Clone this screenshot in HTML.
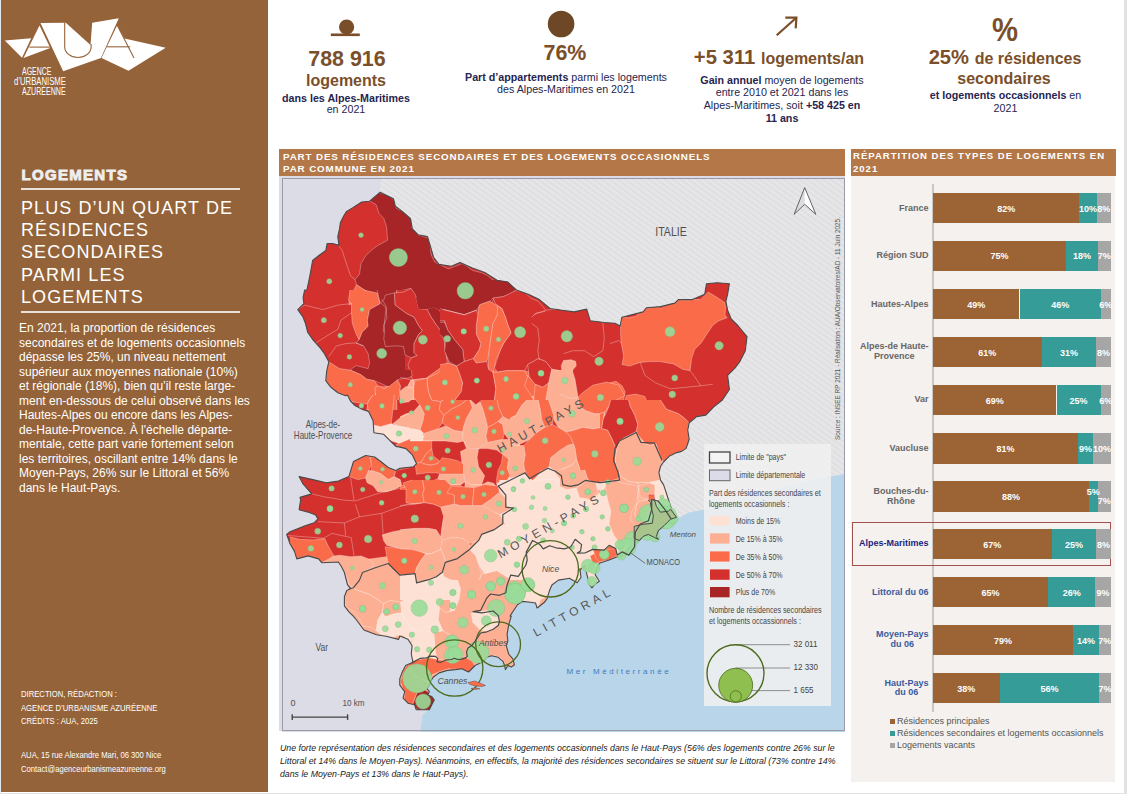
<!DOCTYPE html>
<html><head><meta charset="utf-8">
<style>
*{margin:0;padding:0;box-sizing:border-box}
html,body{width:1127px;height:794px;overflow:hidden;background:#fff;font-family:"Liberation Sans",sans-serif}
.a{position:absolute;white-space:nowrap}
#side{position:absolute;left:1px;top:0;width:267px;height:792px;background:#956339}
.w{color:#fff}
.br{color:#7b4f29;font-weight:bold}
.nv{color:#25254f}
.c{text-align:center}
.cl{width:40px;text-align:center;color:#fff;font-weight:bold;font-size:9px;line-height:12px}
.lb{right:198.5px;text-align:center;font-weight:bold;font-size:9px;line-height:9.7px}
</style></head><body>
<div id="side"></div>
<div class="a" style="left:0;top:0;width:1px;height:794px;background:#e4e9ee"></div>
<div class="a" style="left:0;top:793px;width:1127px;height:1px;background:#e3e3e3"></div>
<div class="a" style="left:1124px;top:0;width:3px;height:794px;background:#e2e2e2"></div>

<!-- logo -->
<svg class="a" style="left:0;top:0" width="180" height="110" viewBox="0 0 180 110">
<g fill="#fff">
<polygon points="4.8,40.4 31.2,38.2 22,57.7"/>
<polygon points="39.5,25.4 50.3,48.1 23.5,58"/>
<polygon points="40.5,23 65.8,22.8 90.5,45 92.2,22.8 118.8,18.2 100.9,58 63.2,71.2"/>
<polygon points="101.5,58 117.2,25.3 124.5,38.6 165.7,47.8 128.5,70.7"/>
</g>
<g stroke="#956339" stroke-width="1.1" fill="none">
<line x1="29.4" y1="47.1" x2="50.5" y2="47.1"/>
<line x1="107" y1="46.8" x2="130" y2="46.8"/>
<line x1="117.2" y1="25.3" x2="134" y2="58"/>
<path d="M64.7,22.5 V47 A13.2,10.5 0 0 0 91.1,47 V44"/>
</g>
</svg>
<div class="a w" style="left:21.9px;top:65.6px;font-size:11.8px;line-height:10.4px">
<div style="transform:scaleX(0.59);transform-origin:left">AGENCE</div>
<div style="transform:scaleX(0.655);transform-origin:left;margin-left:-8px">d’URBANISME</div>
<div style="transform:scaleX(0.6);transform-origin:left">AZURÉENNE</div>
</div>

<div class="a w" style="left:21.5px;top:165.5px;font-size:15px;font-weight:bold;-webkit-text-stroke:0.9px #eeeeee;color:#eeeeee;letter-spacing:1.3px">LOGEMENTS</div>
<div class="a" style="left:21px;top:188px;width:219px;height:2px;background:#e9e2da"></div>
<div class="a w" style="left:21px;top:196.6px;font-size:18px;line-height:22.35px;letter-spacing:1.1px">PLUS D’UN QUART DE<br>RÉSIDENCES<br>SECONDAIRES<br>PARMI LES<br>LOGEMENTS</div>
<div class="a" style="left:21px;top:311px;width:219px;height:2px;background:#e9e2da"></div>
<div class="a w" style="left:19px;top:321px;font-size:12px;line-height:14.5px">En 2021, la proportion de résidences<br>secondaires et de logements occasionnels<br>dépasse les 25%, un niveau nettement<br>supérieur aux moyennes nationale (10%)<br>et régionale (18%), bien qu’il reste large-<br>ment en-dessous de celui observé dans les<br>Hautes-Alpes ou encore dans les Alpes-<br>de-Haute-Provence. À l'échelle départe-<br>mentale, cette part varie fortement selon<br>les territoires, oscillant entre 14% dans le<br>Moyen-Pays, 26% sur le Littoral et 56%<br>dans le Haut-Pays.</div>

<div class="a w" style="left:21.4px;top:687.1px;font-size:9.6px;line-height:13.5px;transform:scaleX(0.8);transform-origin:left">DIRECTION, RÉDACTION :<br>AGENCE D’URBANISME AZURÉENNE<br>CRÉDITS : AUA, 2025</div>
<div class="a w" style="left:21.4px;top:748.2px;font-size:9.6px;line-height:13.5px;transform:scaleX(0.8);transform-origin:left">AUA, 15 rue Alexandre Mari, 06 300 Nice<br>Contact@agenceurbanismeazureenne.org</div>

<!-- top stats -->
<svg class="a" style="left:325px;top:15px" width="40" height="25" viewBox="325 15 40 25">
<circle cx="346.6" cy="27" r="7.6" fill="#7a4e29"/>
<rect x="330.8" y="33.5" width="29" height="2.6" fill="#7a4e29"/>
</svg>
<div class="a br c" style="left:297px;top:46.5px;width:100px;font-size:21.4px;line-height:24px">788 916</div>
<div class="a br c" style="left:296px;top:72px;width:100px;font-size:16px;line-height:18px">logements</div>
<div class="a nv c" style="left:266px;top:92.5px;width:160px;font-size:10.7px;line-height:11.2px"><b>dans les Alpes-Maritimes</b><br>en 2021</div>

<svg class="a" style="left:545px;top:8px" width="35" height="35" viewBox="545 8 35 35">
<circle cx="561.1" cy="24" r="13.3" fill="#6e4826"/>
</svg>
<div class="a br c" style="left:515px;top:40.5px;width:100px;font-size:21.4px;line-height:24px">76%</div>
<div class="a nv c" style="left:456px;top:72px;width:220px;font-size:10.7px;line-height:11.5px"><b>Part d’appartements</b> parmi les logements<br>des Alpes-Maritimes en 2021</div>

<svg class="a" style="left:770px;top:10px" width="35" height="32" viewBox="770 10 35 32">
<g stroke="#7a4e29" stroke-width="2.2" fill="none" stroke-linecap="butt">
<line x1="776.7" y1="35.3" x2="796" y2="18"/>
<polyline points="785.3,17.6 796.4,17.6 795.7,28.4"/>
</g>
</svg>
<div class="a c" style="left:679px;top:45.5px;width:200px;font-size:20.3px;line-height:23px"><span class="br">+5 311</span> <span class="br" style="font-size:16px">logements/an</span></div>
<div class="a nv c" style="left:679.5px;top:73.5px;width:205px;font-size:10.7px;line-height:12.7px"><b>Gain annuel</b> moyen de logements<br>entre 2010 et 2021 dans les<br>Alpes-Maritimes, soit <b>+58 425 en<br>11 ans</b></div>

<div class="a br c" style="left:954.5px;top:10px;width:100px;font-size:34px;line-height:38px;transform:scaleX(0.86)">%</div>
<div class="a c" style="left:905px;top:46px;width:200px;font-size:20.2px;line-height:22px"><span class="br">25%</span> <span class="br" style="font-size:16px">de résidences</span></div>
<div class="a br c" style="left:904px;top:68.5px;width:200px;font-size:16px;line-height:20px">secondaires</div>
<div class="a nv c" style="left:905.5px;top:88.5px;width:200px;font-size:10.7px;line-height:13.5px"><b>et logements occasionnels</b> en<br>2021</div>

<!-- map panel -->
<div class="a" style="left:279px;top:149px;width:566px;height:27px;background:#b47747"></div>
<div class="a w" style="left:283px;top:151px;font-size:9.8px;font-weight:bold;line-height:11.6px;letter-spacing:0.87px">PART DES RÉSIDENCES SECONDAIRES ET DES LOGEMENTS OCCASIONNELS<br>PAR COMMUNE EN 2021</div>
<div class="a" style="left:279px;top:176px;width:566px;height:555px;background:#dcdce7"></div>
<!--MAP-->
<svg class="a" style="left:282px;top:178px" width="563" height="554" viewBox="282 178 563 554">
<defs><pattern id="h" width="4.65" height="4.65" patternUnits="userSpaceOnUse" patternTransform="rotate(36)"><rect width="4.65" height="4.65" fill="#e6e6e6"/><rect width="4.65" height="1.5" fill="#dddde4"/></pattern></defs>
<rect x="282" y="178" width="563" height="554" fill="#dcdce7"/>
<polygon points="381.2,177.0 380.2,186.5 379.3,191.2 380.2,192.2 387.8,196.0 393.5,198.8 395.4,206.3 402.9,212.0 410.5,218.6 412.4,229.0 418.0,234.7 427.5,236.6 430.3,246.0 433.6,257.3 438.9,264.4 451.3,266.2 460.0,262.6 472.4,267.9 484.7,272.5 497.1,280.3 507.7,282.0 516.5,290.1 528.8,294.4 539.4,299.6 550.0,308.5 562.0,310.2 574.3,311.9 586.7,309.1 590.2,320.7 604.3,322.5 614.9,323.2 620.1,326.0 621.9,317.2 643.1,311.9 646.6,307.7 660.7,306.6 674.8,303.1 678.3,299.6 692.4,299.6 704.7,294.3 706.5,283.7 717.1,282.7 729.4,283.7 727.6,294.3 725.9,301.3 727.6,310.2 731.2,319.0 738.2,326.0 747.0,336.6 745.3,350.7 740.0,361.3 734.7,368.3 727.6,375.4 729.4,389.5 722.4,400.0 713.5,407.1 705.8,415.1 696.7,416.6 689.2,422.7 687.7,430.2 689.2,439.3 686.1,448.4 681.6,451.4 675.6,452.9 669.5,455.9 663.5,462.0 660.5,466.5 658.9,472.5 660.5,480.1 663.5,484.6 666.5,493.7 669.5,502.8 672.5,511.8 675.6,519.4 689.0,512.5 703.5,509.8 720.0,505.0 745.0,497.0 770.0,490.0 800.0,482.0 820.0,478.0 841.0,475.0 846.0,473.0 846.0,177.0" fill="url(#h)"/>
<polygon points="675.6,519.4 676.5,517.3 670.5,519.3 667.4,522.3 664.4,525.3 658.4,530.4 656.3,536.4 658.4,539.4 654.3,537.4 648.3,534.4 643.2,536.4 639.2,540.5 634.2,542.5 630.2,546.5 625.1,552.5 620.1,556.6 617.3,556.8 609.1,560.1 599.3,563.3 596.8,568.2 595.2,574.8 599.3,581.3 594.4,584.6 591.9,587.9 589.5,584.6 587.0,574.8 584.6,565.8 580.0,569.9 581.0,577.3 577.2,582.7 569.8,578.4 568.2,578.5 558.4,580.1 551.9,585.0 549.4,590.8 547.0,598.9 544.5,602.2 540.4,605.5 537.1,608.0 535.5,603.0 530.6,602.2 522.4,601.4 517.5,604.7 512.6,612.0 510.1,616.1 511.2,616.4 508.7,624.6 507.1,634.4 507.9,640.9 506.3,645.8 508.7,654.0 512.8,658.9 514.4,664.7 511.2,667.1 507.9,665.5 505.4,669.6 504.6,665.5 503.0,661.4 498.1,657.3 491.5,655.7 486.6,657.3 483.3,661.4 480.1,663.0 475.1,665.5 468.6,672.0 465.3,670.4 462.0,668.8 455.5,669.6 447.3,670.4 439.1,672.9 433.4,677.0 430.1,681.9 429.3,685.1 426.8,688.4 429.3,691.7 427.7,695.0 431.8,696.6 434.2,699.9 431.8,704.8 429.3,709.7 422.7,714.6 421.9,721.2 420.3,733.0 846.0,733.0 846.0,473.0 846.0,473.0 841.0,475.0 820.0,478.0 800.0,482.0 770.0,490.0 745.0,497.0 720.0,505.0 703.5,509.8 689.0,512.5" fill="#b9d5e9"/>
<polygon points="380.2,192.2 387.8,196.0 393.5,198.8 395.4,206.3 402.9,212.0 410.5,218.6 412.4,229.0 418.0,234.7 427.5,236.6 430.3,246.0 433.6,257.3 438.9,264.4 451.3,266.2 460.0,262.6 472.4,267.9 484.7,272.5 497.1,280.3 507.7,282.0 516.5,290.1 528.8,294.4 539.4,299.6 550.0,308.5 562.0,310.2 574.3,311.9 586.7,309.1 590.2,320.7 604.3,322.5 614.9,323.2 620.1,326.0 621.9,317.2 643.1,311.9 646.6,307.7 660.7,306.6 674.8,303.1 678.3,299.6 692.4,299.6 704.7,294.3 706.5,283.7 717.1,282.7 729.4,283.7 727.6,294.3 725.9,301.3 727.6,310.2 731.2,319.0 738.2,326.0 747.0,336.6 745.3,350.7 740.0,361.3 734.7,368.3 727.6,375.4 729.4,389.5 722.4,400.0 713.5,407.1 705.8,415.1 696.7,416.6 689.2,422.7 687.7,430.2 689.2,439.3 686.1,448.4 681.6,451.4 675.6,452.9 669.5,455.9 663.5,462.0 660.5,466.5 658.9,472.5 660.5,480.1 663.5,484.6 666.5,493.7 669.5,502.8 672.5,511.8 675.6,519.4 676.5,517.3 670.5,519.3 667.4,522.3 664.4,525.3 658.4,530.4 656.3,536.4 658.4,539.4 654.3,537.4 648.3,534.4 643.2,536.4 639.2,540.5 634.2,542.5 630.2,546.5 625.1,552.5 620.1,556.6 617.3,556.8 609.1,560.1 599.3,563.3 596.8,568.2 595.2,574.8 599.3,581.3 594.4,584.6 591.9,587.9 589.5,584.6 587.0,574.8 584.6,565.8 580.0,569.9 581.0,577.3 577.2,582.7 569.8,578.4 568.2,578.5 558.4,580.1 551.9,585.0 549.4,590.8 547.0,598.9 544.5,602.2 540.4,605.5 537.1,608.0 535.5,603.0 530.6,602.2 522.4,601.4 517.5,604.7 512.6,612.0 510.1,616.1 511.2,616.4 508.7,624.6 507.1,634.4 507.9,640.9 506.3,645.8 508.7,654.0 512.8,658.9 514.4,664.7 511.2,667.1 507.9,665.5 505.4,669.6 504.6,665.5 503.0,661.4 498.1,657.3 491.5,655.7 486.6,657.3 483.3,661.4 480.1,663.0 475.1,665.5 468.6,672.0 465.3,670.4 462.0,668.8 455.5,669.6 447.3,670.4 439.1,672.9 433.4,677.0 430.1,681.9 429.3,685.1 426.8,688.4 429.3,691.7 427.7,695.0 431.8,696.6 434.2,699.9 431.8,704.8 429.3,709.7 416.2,709.7 414.6,704.8 408.0,703.2 403.1,698.2 404.7,691.7 399.8,685.1 399.8,678.6 402.3,672.0 405.6,665.5 412.9,662.2 411.3,654.0 412.1,645.8 408.0,639.3 399.8,636.0 398.6,639.4 386.0,636.3 376.5,634.7 363.9,630.0 356.5,620.0 353.5,616.4 348.9,611.8 344.4,605.8 344.4,596.7 346.7,590.7 350.5,588.4 347.4,584.6 344.4,572.5 341.4,566.5 338.4,562.0 321.7,562.7 318.7,558.9 308.1,555.9 296.8,558.9 294.5,551.4 290.0,543.8 288.0,538.0 286.7,534.5 290.0,531.7 297.6,528.7 305.1,525.7 314.2,522.7 318.0,518.9 315.7,515.1 308.1,512.1 299.1,509.8 300.6,500.0 300.0,497.4 311.8,493.9 303.0,484.0 299.1,476.6 312.7,479.6 326.3,482.7 338.4,481.1 348.9,476.6 353.5,461.5 365.6,455.5 374.6,457.0 380.7,461.5 388.2,467.5 395.8,470.6 400.0,468.2 413.6,466.7 416.6,463.7 412.1,454.6 406.0,448.6 400.0,447.1 395.8,446.4 388.2,438.8 383.7,434.3 373.9,432.8 373.1,420.7 368.6,411.6 362.5,409.4 355.0,405.6 350.5,401.0 347.4,395.0 345.5,395.8 337.9,392.8 330.3,386.7 325.8,380.7 326.6,371.6 328.8,361.8 324.3,353.5 319.8,347.4 313.0,339.9 307.7,332.3 305.4,323.2 303.1,317.2 297.8,309.6 303.9,303.6 303.1,297.6 304.6,290.0 306.9,290.0 309.4,278.2 311.3,268.1 312.6,260.5 318.9,255.5 325.8,250.5 327.1,243.5 332.7,243.5 339.0,245.4 337.8,236.6 339.7,227.8 340.3,222.7 344.1,215.2 346.6,211.4 352.9,207.6 361.7,202.0 369.3,201.3" fill="#d4302d"/>
<clipPath id="dep"><polygon points="380.2,192.2 387.8,196.0 393.5,198.8 395.4,206.3 402.9,212.0 410.5,218.6 412.4,229.0 418.0,234.7 427.5,236.6 430.3,246.0 433.6,257.3 438.9,264.4 451.3,266.2 460.0,262.6 472.4,267.9 484.7,272.5 497.1,280.3 507.7,282.0 516.5,290.1 528.8,294.4 539.4,299.6 550.0,308.5 562.0,310.2 574.3,311.9 586.7,309.1 590.2,320.7 604.3,322.5 614.9,323.2 620.1,326.0 621.9,317.2 643.1,311.9 646.6,307.7 660.7,306.6 674.8,303.1 678.3,299.6 692.4,299.6 704.7,294.3 706.5,283.7 717.1,282.7 729.4,283.7 727.6,294.3 725.9,301.3 727.6,310.2 731.2,319.0 738.2,326.0 747.0,336.6 745.3,350.7 740.0,361.3 734.7,368.3 727.6,375.4 729.4,389.5 722.4,400.0 713.5,407.1 705.8,415.1 696.7,416.6 689.2,422.7 687.7,430.2 689.2,439.3 686.1,448.4 681.6,451.4 675.6,452.9 669.5,455.9 663.5,462.0 660.5,466.5 658.9,472.5 660.5,480.1 663.5,484.6 666.5,493.7 669.5,502.8 672.5,511.8 675.6,519.4 676.5,517.3 670.5,519.3 667.4,522.3 664.4,525.3 658.4,530.4 656.3,536.4 658.4,539.4 654.3,537.4 648.3,534.4 643.2,536.4 639.2,540.5 634.2,542.5 630.2,546.5 625.1,552.5 620.1,556.6 617.3,556.8 609.1,560.1 599.3,563.3 596.8,568.2 595.2,574.8 599.3,581.3 594.4,584.6 591.9,587.9 589.5,584.6 587.0,574.8 584.6,565.8 580.0,569.9 581.0,577.3 577.2,582.7 569.8,578.4 568.2,578.5 558.4,580.1 551.9,585.0 549.4,590.8 547.0,598.9 544.5,602.2 540.4,605.5 537.1,608.0 535.5,603.0 530.6,602.2 522.4,601.4 517.5,604.7 512.6,612.0 510.1,616.1 511.2,616.4 508.7,624.6 507.1,634.4 507.9,640.9 506.3,645.8 508.7,654.0 512.8,658.9 514.4,664.7 511.2,667.1 507.9,665.5 505.4,669.6 504.6,665.5 503.0,661.4 498.1,657.3 491.5,655.7 486.6,657.3 483.3,661.4 480.1,663.0 475.1,665.5 468.6,672.0 465.3,670.4 462.0,668.8 455.5,669.6 447.3,670.4 439.1,672.9 433.4,677.0 430.1,681.9 429.3,685.1 426.8,688.4 429.3,691.7 427.7,695.0 431.8,696.6 434.2,699.9 431.8,704.8 429.3,709.7 416.2,709.7 414.6,704.8 408.0,703.2 403.1,698.2 404.7,691.7 399.8,685.1 399.8,678.6 402.3,672.0 405.6,665.5 412.9,662.2 411.3,654.0 412.1,645.8 408.0,639.3 399.8,636.0 398.6,639.4 386.0,636.3 376.5,634.7 363.9,630.0 356.5,620.0 353.5,616.4 348.9,611.8 344.4,605.8 344.4,596.7 346.7,590.7 350.5,588.4 347.4,584.6 344.4,572.5 341.4,566.5 338.4,562.0 321.7,562.7 318.7,558.9 308.1,555.9 296.8,558.9 294.5,551.4 290.0,543.8 288.0,538.0 286.7,534.5 290.0,531.7 297.6,528.7 305.1,525.7 314.2,522.7 318.0,518.9 315.7,515.1 308.1,512.1 299.1,509.8 300.6,500.0 300.0,497.4 311.8,493.9 303.0,484.0 299.1,476.6 312.7,479.6 326.3,482.7 338.4,481.1 348.9,476.6 353.5,461.5 365.6,455.5 374.6,457.0 380.7,461.5 388.2,467.5 395.8,470.6 400.0,468.2 413.6,466.7 416.6,463.7 412.1,454.6 406.0,448.6 400.0,447.1 395.8,446.4 388.2,438.8 383.7,434.3 373.9,432.8 373.1,420.7 368.6,411.6 362.5,409.4 355.0,405.6 350.5,401.0 347.4,395.0 345.5,395.8 337.9,392.8 330.3,386.7 325.8,380.7 326.6,371.6 328.8,361.8 324.3,353.5 319.8,347.4 313.0,339.9 307.7,332.3 305.4,323.2 303.1,317.2 297.8,309.6 303.9,303.6 303.1,297.6 304.6,290.0 306.9,290.0 309.4,278.2 311.3,268.1 312.6,260.5 318.9,255.5 325.8,250.5 327.1,243.5 332.7,243.5 339.0,245.4 337.8,236.6 339.7,227.8 340.3,222.7 344.1,215.2 346.6,211.4 352.9,207.6 361.7,202.0 369.3,201.3"/></clipPath>
<g clip-path="url(#dep)" stroke="#fff" stroke-opacity="0.45" stroke-width="0.7" stroke-linejoin="round">
<polygon points="282.0,565.0 360.0,560.0 470.0,545.0 520.0,480.0 700.0,420.0 846.0,420.0 846.0,733.0 282.0,733.0" fill="#fcaf92" stroke="none"/>
<polygon points="369.3,200.9 379.2,192.6 388.2,195.6 394.3,200.1 395.8,207.7 404.9,213.7 410.0,216.7 410.0,290.8 401.8,291.5 395.8,293.1 388.2,293.8 383.7,296.8 380.7,305.0 379.2,299.9 374.6,296.1 365.6,290.8 356.5,284.7 355.0,279.5 359.5,274.2 361.0,263.6 365.6,256.0 371.6,250.0 377.7,245.5 387.5,240.2 386.7,227.3 383.7,218.2 379.2,213.7 376.1,204.6" fill="#a72427" stroke="none"/>
<path d="M369.3 200.9L379.2 192.6M379.2 192.6L388.2 195.6M388.2 195.6L394.3 200.1M394.3 200.1L395.8 207.7M395.8 207.7L404.9 213.7M404.9 213.7L410.0 216.7M410.0 290.8L401.8 291.5M401.8 291.5L395.8 293.1M395.8 293.1L388.2 293.8M388.2 293.8L383.7 296.8M383.7 296.8L380.7 305.0M380.7 305.0L379.2 299.9M379.2 299.9L374.6 296.1M374.6 296.1L365.6 290.8M365.6 290.8L356.5 284.7M356.5 284.7L355.0 279.5M355.0 279.5L359.5 274.2M359.5 274.2L361.0 263.6M361.0 263.6L365.6 256.0M365.6 256.0L371.6 250.0M371.6 250.0L377.7 245.5M377.7 245.5L387.5 240.2M387.5 240.2L386.7 227.3M386.7 227.3L383.7 218.2M383.7 218.2L379.2 213.7M379.2 213.7L376.1 204.6M376.1 204.6L369.3 200.9" fill="none"/>
<polygon points="356.5,284.7 365.6,290.8 374.6,296.1 379.2,299.9 379.9,305.0 348.9,305.0 349.7,296.8 353.5,290.8" fill="#fa6b49" stroke="none"/>
<path d="M356.5 284.7L365.6 290.8M365.6 290.8L374.6 296.1M374.6 296.1L379.2 299.9M379.2 299.9L379.9 305.0M348.9 305.0L349.7 296.8M349.7 296.8L353.5 290.8M353.5 290.8L356.5 284.7" fill="none"/>
<polygon points="400.0,209.9 406.0,213.7 411.3,219.8 412.1,228.8 416.6,230.3 418.1,234.9 428.0,237.9 430.2,245.5 431.0,254.5 434.8,262.1 440.8,265.1 448.4,268.9 454.4,266.6 462.0,263.6 466.5,265.9 472.5,270.4 481.6,272.7 487.7,275.7 495.2,281.7 502.8,277.2 511.8,280.2 516.4,287.8 520.0,289.3 516.4,290.8 505.8,296.8 493.7,299.1 490.7,305.0 416.6,305.0 416.6,299.9 410.6,288.5 400.0,290.8" fill="#a72427" stroke="none"/>
<path d="M400.0 209.9L406.0 213.7M406.0 213.7L411.3 219.8M411.3 219.8L412.1 228.8M412.1 228.8L416.6 230.3M416.6 230.3L418.1 234.9M418.1 234.9L428.0 237.9M428.0 237.9L430.2 245.5M430.2 245.5L431.0 254.5M431.0 254.5L434.8 262.1M434.8 262.1L440.8 265.1M440.8 265.1L448.4 268.9M448.4 268.9L454.4 266.6M454.4 266.6L462.0 263.6M462.0 263.6L466.5 265.9M466.5 265.9L472.5 270.4M472.5 270.4L481.6 272.7M481.6 272.7L487.7 275.7M487.7 275.7L495.2 281.7M495.2 281.7L502.8 277.2M502.8 277.2L511.8 280.2M511.8 280.2L516.4 287.8M516.4 287.8L520.0 289.3M520.0 289.3L516.4 290.8M516.4 290.8L505.8 296.8M505.8 296.8L493.7 299.1M493.7 299.1L490.7 305.0M416.6 305.0L416.6 299.9M416.6 299.9L410.6 288.5M410.6 288.5L400.0 290.8" fill="none"/>
<polygon points="350.0,290.0 363.6,290.0 377.2,293.0 380.2,303.6 369.6,309.6 367.4,320.2 368.1,326.3 362.1,332.3 359.1,339.9 356.0,333.8 352.3,323.2 351.5,312.7 351.5,303.6 348.5,300.6" fill="#fa6b49" stroke="none"/>
<path d="M363.6 290.0L377.2 293.0M377.2 293.0L380.2 303.6M380.2 303.6L369.6 309.6M369.6 309.6L367.4 320.2M367.4 320.2L368.1 326.3M368.1 326.3L362.1 332.3M362.1 332.3L359.1 339.9M359.1 339.9L356.0 333.8M356.0 333.8L352.3 323.2M352.3 323.2L351.5 312.7M351.5 312.7L351.5 303.6M351.5 303.6L348.5 300.6M348.5 300.6L350.0 290.0" fill="none"/>
<polygon points="377.2,290.0 396.8,290.0 395.3,305.1 405.0,314.2 405.0,380.7 398.3,385.2 387.8,386.7 381.7,383.7 374.2,380.7 366.6,379.2 360.6,374.6 350.0,370.1 356.0,365.6 368.1,368.6 369.6,362.5 368.1,353.5 363.6,345.9 356.0,342.9 359.1,339.9 362.1,332.3 368.1,326.3 367.4,320.2 369.6,309.6 380.2,303.6" fill="#a72427" stroke="none"/>
<path d="M396.8 290.0L395.3 305.1M395.3 305.1L405.0 314.2M405.0 380.7L398.3 385.2M398.3 385.2L387.8 386.7M387.8 386.7L381.7 383.7M381.7 383.7L374.2 380.7M374.2 380.7L366.6 379.2M366.6 379.2L360.6 374.6M360.6 374.6L350.0 370.1M350.0 370.1L356.0 365.6M356.0 365.6L368.1 368.6M368.1 368.6L369.6 362.5M369.6 362.5L368.1 353.5M368.1 353.5L363.6 345.9M363.6 345.9L356.0 342.9M356.0 342.9L359.1 339.9M359.1 339.9L362.1 332.3M362.1 332.3L368.1 326.3M368.1 326.3L367.4 320.2M367.4 320.2L369.6 309.6M369.6 309.6L380.2 303.6M380.2 303.6L377.2 290.0" fill="none"/>
<polygon points="396.8,290.0 405.0,290.0 405.0,314.2 395.3,305.1" fill="#d4302d" stroke="none"/>
<path d="M405.0 314.2L395.3 305.1M395.3 305.1L396.8 290.0" fill="none"/>
<polygon points="328.8,361.8 339.4,368.6 350.0,370.1 360.6,374.6 366.6,379.2 374.2,380.7 378.7,386.7 375.7,394.3 369.6,398.8 360.6,401.8 350.0,401.8 345.5,395.8 337.9,392.8 330.3,386.7 325.8,380.7 326.6,371.6" fill="#fa6b49" stroke="none"/>
<path d="M328.8 361.8L339.4 368.6M339.4 368.6L350.0 370.1M350.0 370.1L360.6 374.6M360.6 374.6L366.6 379.2M366.6 379.2L374.2 380.7M374.2 380.7L378.7 386.7M378.7 386.7L375.7 394.3M375.7 394.3L369.6 398.8M369.6 398.8L360.6 401.8M360.6 401.8L350.0 401.8M350.0 401.8L345.5 395.8M345.5 395.8L337.9 392.8M337.9 392.8L330.3 386.7M330.3 386.7L325.8 380.7M325.8 380.7L326.6 371.6M326.6 371.6L328.8 361.8" fill="none"/>
<polygon points="378.7,386.7 387.8,386.7 396.8,386.7 396.8,410.0 366.6,410.0 369.6,398.8 375.7,394.3" fill="#fa6b49" stroke="none"/>
<path d="M378.7 386.7L387.8 386.7M387.8 386.7L396.8 386.7M396.8 386.7L396.8 410.0M366.6 410.0L369.6 398.8M369.6 398.8L375.7 394.3M375.7 394.3L378.7 386.7" fill="none"/>
<polygon points="398.3,385.2 405.0,380.7 405.0,410.0 396.8,410.0 396.8,386.7" fill="#d4302d" stroke="none"/>
<path d="M398.3 385.2L405.0 380.7M396.8 410.0L396.8 386.7M396.8 386.7L398.3 385.2" fill="none"/>
<polygon points="383.8,299.7 385.4,295.1 394.4,292.9 395.2,304.9 406.5,313.3 414.1,317.0 418.6,325.4 422.4,330.7 418.6,334.4 414.1,343.5 414.1,352.6 417.1,355.6 411.1,357.9 405.0,354.8 403.5,346.5 397.5,345.8 385.4,346.5 383.8,339.0 384.6,329.9 383.8,325.4 386.9,317.8 386.1,308.0 380.8,302.7" fill="#a72427" stroke="none"/>
<path d="M383.8 299.7L385.4 295.1M385.4 295.1L394.4 292.9M394.4 292.9L395.2 304.9M395.2 304.9L406.5 313.3M406.5 313.3L414.1 317.0M414.1 317.0L418.6 325.4M418.6 325.4L422.4 330.7M422.4 330.7L418.6 334.4M418.6 334.4L414.1 343.5M414.1 343.5L414.1 352.6M414.1 352.6L417.1 355.6M417.1 355.6L411.1 357.9M411.1 357.9L405.0 354.8M405.0 354.8L403.5 346.5M403.5 346.5L397.5 345.8M397.5 345.8L385.4 346.5M385.4 346.5L383.8 339.0M383.8 339.0L384.6 329.9M384.6 329.9L383.8 325.4M383.8 325.4L386.9 317.8M386.9 317.8L386.1 308.0M386.1 308.0L380.8 302.7M380.8 302.7L383.8 299.7" fill="none"/>
<polygon points="394.4,292.9 403.5,292.1 411.1,288.3 415.6,295.1 418.6,308.7 427.7,309.5 430.7,316.3 436.8,325.4 441.3,331.4 444.3,340.5 445.8,352.6 447.3,363.2 436.8,370.7 426.2,378.3 412.6,379.8 411.1,375.3 408.0,364.7 411.1,357.9 417.1,355.6 414.1,352.6 414.1,343.5 418.6,334.4 422.4,330.7 418.6,325.4 414.1,317.0 406.5,313.3 395.2,304.9" fill="#d4302d" stroke="none"/>
<path d="M394.4 292.9L403.5 292.1M403.5 292.1L411.1 288.3M411.1 288.3L415.6 295.1M415.6 295.1L418.6 308.7M418.6 308.7L427.7 309.5M427.7 309.5L430.7 316.3M430.7 316.3L436.8 325.4M436.8 325.4L441.3 331.4M441.3 331.4L444.3 340.5M444.3 340.5L445.8 352.6M445.8 352.6L447.3 363.2M447.3 363.2L436.8 370.7M436.8 370.7L426.2 378.3M426.2 378.3L412.6 379.8M412.6 379.8L411.1 375.3M411.1 375.3L408.0 364.7M408.0 364.7L411.1 357.9M411.1 357.9L417.1 355.6M417.1 355.6L414.1 352.6M414.1 352.6L414.1 343.5M414.1 343.5L418.6 334.4M418.6 334.4L422.4 330.7M422.4 330.7L418.6 325.4M418.6 325.4L414.1 317.0M414.1 317.0L406.5 313.3M406.5 313.3L395.2 304.9M395.2 304.9L394.4 292.9" fill="none"/>
<polygon points="426.9,308.7 433.7,307.2 439.8,310.2 442.8,317.8 445.8,323.8 451.9,331.4 459.4,340.5 464.0,348.0 465.5,355.6 461.0,364.7 454.9,366.2 448.9,363.2 445.8,352.6 444.3,340.5 441.3,331.4 436.8,325.4 430.7,316.3" fill="#a72427" stroke="none"/>
<path d="M426.9 308.7L433.7 307.2M433.7 307.2L439.8 310.2M439.8 310.2L442.8 317.8M442.8 317.8L445.8 323.8M445.8 323.8L451.9 331.4M451.9 331.4L459.4 340.5M459.4 340.5L464.0 348.0M464.0 348.0L465.5 355.6M465.5 355.6L461.0 364.7M461.0 364.7L454.9 366.2M454.9 366.2L448.9 363.2M448.9 363.2L445.8 352.6M445.8 352.6L444.3 340.5M444.3 340.5L441.3 331.4M441.3 331.4L436.8 325.4M436.8 325.4L430.7 316.3M430.7 316.3L426.9 308.7" fill="none"/>
<polygon points="439.8,310.2 445.8,312.5 456.4,314.8 464.0,312.5 473.1,310.2 476.1,316.3 479.1,325.4 479.1,340.5 477.6,351.1 473.1,361.6 467.0,360.1 465.5,355.6 464.0,348.0 459.4,340.5 451.9,331.4 445.8,323.8 442.8,317.8" fill="#d4302d" stroke="none"/>
<path d="M439.8 310.2L445.8 312.5M445.8 312.5L456.4 314.8M456.4 314.8L464.0 312.5M464.0 312.5L473.1 310.2M473.1 310.2L476.1 316.3M476.1 316.3L479.1 325.4M479.1 325.4L479.1 340.5M479.1 340.5L477.6 351.1M477.6 351.1L473.1 361.6M473.1 361.6L467.0 360.1M467.0 360.1L465.5 355.6M465.5 355.6L464.0 348.0M464.0 348.0L459.4 340.5M459.4 340.5L451.9 331.4M451.9 331.4L445.8 323.8M445.8 323.8L442.8 317.8M442.8 317.8L439.8 310.2" fill="none"/>
<polygon points="479.1,313.3 480.0,313.3 480.0,361.6 473.1,362.4 477.6,351.1 479.1,340.5 479.1,325.4" fill="#fa6b49" stroke="none"/>
<path d="M479.1 313.3L480.0 313.3M480.0 313.3L480.0 361.6M480.0 361.6L473.1 362.4M473.1 362.4L477.6 351.1M477.6 351.1L479.1 340.5M479.1 340.5L479.1 325.4M479.1 325.4L479.1 313.3" fill="none"/>
<polygon points="379.3,385.8 383.8,388.9 389.9,385.8 397.5,379.8 400.5,385.8 399.0,400.0 376.3,400.0 374.8,387.3" fill="#fa6b49" stroke="none"/>
<path d="M379.3 385.8L383.8 388.9M383.8 388.9L389.9 385.8M389.9 385.8L397.5 379.8M397.5 379.8L400.5 385.8M400.5 385.8L399.0 400.0M376.3 400.0L374.8 387.3M374.8 387.3L379.3 385.8" fill="none"/>
<polygon points="397.5,379.8 403.5,378.3 411.1,379.8 408.0,385.8 403.5,400.0 399.0,400.0 400.5,385.8" fill="#d4302d" stroke="none"/>
<path d="M397.5 379.8L403.5 378.3M403.5 378.3L411.1 379.8M411.1 379.8L408.0 385.8M408.0 385.8L403.5 400.0M399.0 400.0L400.5 385.8M400.5 385.8L397.5 379.8" fill="none"/>
<polygon points="411.1,379.8 414.1,380.5 414.1,400.0 403.5,400.0 408.0,385.8" fill="#fcaf92" stroke="none"/>
<path d="M411.1 379.8L414.1 380.5M414.1 380.5L414.1 400.0M403.5 400.0L408.0 385.8M408.0 385.8L411.1 379.8" fill="none"/>
<polygon points="426.2,378.3 436.8,370.7 447.3,363.2 454.9,366.2 461.0,364.7 462.5,376.8 461.0,388.9 457.9,400.0 430.7,400.0 429.2,388.9 426.2,382.8" fill="#fa6b49" stroke="none"/>
<path d="M426.2 378.3L436.8 370.7M436.8 370.7L447.3 363.2M447.3 363.2L454.9 366.2M454.9 366.2L461.0 364.7M461.0 364.7L462.5 376.8M462.5 376.8L461.0 388.9M461.0 388.9L457.9 400.0M430.7 400.0L429.2 388.9M429.2 388.9L426.2 382.8M426.2 382.8L426.2 378.3" fill="none"/>
<polygon points="412.6,379.8 426.2,378.3 429.2,388.9 430.7,400.0 414.1,400.0 414.1,380.5" fill="#fa6b49" stroke="none"/>
<path d="M412.6 379.8L426.2 378.3M426.2 378.3L429.2 388.9M429.2 388.9L430.7 400.0M414.1 400.0L414.1 380.5M414.1 380.5L412.6 379.8" fill="none"/>
<polygon points="500.0,277.4 503.0,276.6 509.1,281.2 513.6,281.2 516.6,288.0 515.1,292.5 509.1,295.5 504.5,298.5 500.0,297.8" fill="#a72427" stroke="none"/>
<path d="M500.0 277.4L503.0 276.6M503.0 276.6L509.1 281.2M509.1 281.2L513.6 281.2M513.6 281.2L516.6 288.0M516.6 288.0L515.1 292.5M515.1 292.5L509.1 295.5M509.1 295.5L504.5 298.5M504.5 298.5L500.0 297.8" fill="none"/>
<polygon points="500.0,305.3 503.0,306.8 507.6,315.9 510.6,325.0 511.3,334.1 506.0,337.1 503.0,347.7 500.0,356.7" fill="#fa6b49" stroke="none"/>
<path d="M500.0 305.3L503.0 306.8M503.0 306.8L507.6 315.9M507.6 315.9L510.6 325.0M510.6 325.0L511.3 334.1M511.3 334.1L506.0 337.1M506.0 337.1L503.0 347.7M503.0 347.7L500.0 356.7" fill="none"/>
<polygon points="563.5,360.5 571.0,359.7 575.6,361.3 576.3,365.8 572.5,370.3 571.0,380.0 551.4,380.0 557.4,373.3 562.0,371.8 561.2,365.8" fill="#fcaf92" stroke="none"/>
<path d="M563.5 360.5L571.0 359.7M571.0 359.7L575.6 361.3M575.6 361.3L576.3 365.8M576.3 365.8L572.5 370.3M572.5 370.3L571.0 380.0M551.4 380.0L557.4 373.3M557.4 373.3L562.0 371.8M562.0 371.8L561.2 365.8M561.2 365.8L563.5 360.5" fill="none"/>
<polygon points="500.0,368.8 509.1,368.8 519.6,370.3 528.7,371.8 530.2,380.0 500.0,380.0" fill="#fa6b49" stroke="none"/>
<path d="M500.0 368.8L509.1 368.8M509.1 368.8L519.6 370.3M519.6 370.3L528.7 371.8M528.7 371.8L530.2 380.0" fill="none"/>
<polygon points="620.6,325.3 621.3,317.0 628.1,317.8 635.7,316.3 640.2,312.5 646.3,308.7 655.3,306.4 661.4,308.7 664.4,304.9 672.0,302.7 678.0,299.6 685.6,300.4 693.1,299.6 700.7,299.6 705.2,295.1 708.2,292.1 715.8,296.6 724.9,302.7 725.6,308.7 724.9,314.8 727.1,317.8 718.8,320.8 712.8,325.3 706.7,334.4 700.7,343.5 694.6,349.5 691.6,358.6 690.1,370.7 682.5,369.2 673.5,363.9 659.9,361.6 649.3,361.6 640.2,362.4 629.6,366.1 622.1,364.6 623.6,355.6 621.3,343.5 620.6,334.4" fill="#fa6b49" stroke="none"/>
<path d="M620.6 325.3L621.3 317.0M621.3 317.0L628.1 317.8M628.1 317.8L635.7 316.3M635.7 316.3L640.2 312.5M640.2 312.5L646.3 308.7M646.3 308.7L655.3 306.4M655.3 306.4L661.4 308.7M661.4 308.7L664.4 304.9M664.4 304.9L672.0 302.7M672.0 302.7L678.0 299.6M678.0 299.6L685.6 300.4M685.6 300.4L693.1 299.6M693.1 299.6L700.7 299.6M700.7 299.6L705.2 295.1M705.2 295.1L708.2 292.1M708.2 292.1L715.8 296.6M715.8 296.6L724.9 302.7M724.9 302.7L725.6 308.7M725.6 308.7L724.9 314.8M724.9 314.8L727.1 317.8M727.1 317.8L718.8 320.8M718.8 320.8L712.8 325.3M712.8 325.3L706.7 334.4M706.7 334.4L700.7 343.5M700.7 343.5L694.6 349.5M694.6 349.5L691.6 358.6M691.6 358.6L690.1 370.7M690.1 370.7L682.5 369.2M682.5 369.2L673.5 363.9M673.5 363.9L659.9 361.6M659.9 361.6L649.3 361.6M649.3 361.6L640.2 362.4M640.2 362.4L629.6 366.1M629.6 366.1L622.1 364.6M622.1 364.6L623.6 355.6M623.6 355.6L621.3 343.5M621.3 343.5L620.6 334.4M620.6 334.4L620.6 325.3" fill="none"/>
<polygon points="610.0,382.8 616.0,381.3 622.1,385.8 625.1,391.8 623.6,400.0 610.0,400.0" fill="#fa6b49" stroke="none"/>
<path d="M610.0 382.8L616.0 381.3M616.0 381.3L622.1 385.8M622.1 385.8L625.1 391.8M625.1 391.8L623.6 400.0" fill="none"/>
<polygon points="626.6,395.6 635.7,394.1 644.8,396.4 646.3,400.0 625.1,400.0" fill="#fa6b49" stroke="none"/>
<path d="M626.6 395.6L635.7 394.1M635.7 394.1L644.8 396.4M644.8 396.4L646.3 400.0M625.1 400.0L626.6 395.6" fill="none"/>
<polygon points="400.0,370.0 411.3,370.0 412.1,376.0 407.6,378.3 400.0,377.6" fill="#a72427" stroke="none"/>
<path d="M411.3 370.0L412.1 376.0M412.1 376.0L407.6 378.3M407.6 378.3L400.0 377.6" fill="none"/>
<polygon points="427.2,378.3 437.8,373.0 440.8,370.0 460.5,370.0 462.7,377.6 462.0,389.6 457.4,392.7 449.9,395.7 440.8,401.7 431.7,400.2 428.7,392.7 427.2,385.1" fill="#fa6b49" stroke="none"/>
<path d="M427.2 378.3L437.8 373.0M437.8 373.0L440.8 370.0M460.5 370.0L462.7 377.6M462.7 377.6L462.0 389.6M462.0 389.6L457.4 392.7M457.4 392.7L449.9 395.7M449.9 395.7L440.8 401.7M440.8 401.7L431.7 400.2M431.7 400.2L428.7 392.7M428.7 392.7L427.2 385.1M427.2 385.1L427.2 378.3" fill="none"/>
<polygon points="492.2,370.0 520.0,370.0 520.0,419.9 508.8,419.9 502.8,416.8 498.2,406.3 496.7,395.7 494.5,392.7 493.7,379.1" fill="#fa6b49" stroke="none"/>
<path d="M520.0 419.9L508.8 419.9M508.8 419.9L502.8 416.8M502.8 416.8L498.2 406.3M498.2 406.3L496.7 395.7M496.7 395.7L494.5 392.7M494.5 392.7L493.7 379.1M493.7 379.1L492.2 370.0" fill="none"/>
<polygon points="415.1,380.6 427.2,378.3 427.2,385.1 428.7,392.7 431.7,400.2 440.8,401.7 439.3,409.3 443.8,415.3 442.3,422.9 437.8,428.9 424.2,433.5 419.6,430.5 422.7,421.4 424.2,413.8 419.6,404.8 413.6,397.2 413.6,388.1" fill="#fa6b49" stroke="none"/>
<path d="M415.1 380.6L427.2 378.3M427.2 378.3L427.2 385.1M427.2 385.1L428.7 392.7M428.7 392.7L431.7 400.2M431.7 400.2L440.8 401.7M440.8 401.7L439.3 409.3M439.3 409.3L443.8 415.3M443.8 415.3L442.3 422.9M442.3 422.9L437.8 428.9M437.8 428.9L424.2 433.5M424.2 433.5L419.6 430.5M419.6 430.5L422.7 421.4M422.7 421.4L424.2 413.8M424.2 413.8L419.6 404.8M419.6 404.8L413.6 397.2M413.6 397.2L413.6 388.1M413.6 388.1L415.1 380.6" fill="none"/>
<polygon points="440.8,401.7 449.9,395.7 457.4,392.7 463.5,392.7 466.5,400.2 460.5,404.8 451.4,409.3 443.8,415.3 439.3,409.3" fill="#fa6b49" stroke="none"/>
<path d="M440.8 401.7L449.9 395.7M449.9 395.7L457.4 392.7M457.4 392.7L463.5 392.7M463.5 392.7L466.5 400.2M466.5 400.2L460.5 404.8M460.5 404.8L451.4 409.3M451.4 409.3L443.8 415.3M443.8 415.3L439.3 409.3M439.3 409.3L440.8 401.7" fill="none"/>
<polygon points="443.8,415.3 451.4,409.3 460.5,404.8 466.5,400.2 469.5,398.7 472.5,407.8 466.5,418.4 463.5,427.4 462.7,432.0 454.4,430.5 448.4,427.4 442.3,422.9" fill="#fa6b49" stroke="none"/>
<path d="M443.8 415.3L451.4 409.3M451.4 409.3L460.5 404.8M460.5 404.8L466.5 400.2M466.5 400.2L469.5 398.7M469.5 398.7L472.5 407.8M472.5 407.8L466.5 418.4M466.5 418.4L463.5 427.4M463.5 427.4L462.7 432.0M462.7 432.0L454.4 430.5M454.4 430.5L448.4 427.4M448.4 427.4L442.3 422.9M442.3 422.9L443.8 415.3" fill="none"/>
<polygon points="400.0,391.2 406.0,386.6 413.6,388.1 413.6,397.2 409.1,401.7 400.0,403.2" fill="#fcaf92" stroke="none"/>
<path d="M400.0 391.2L406.0 386.6M406.0 386.6L413.6 388.1M413.6 388.1L413.6 397.2M413.6 397.2L409.1 401.7M409.1 401.7L400.0 403.2" fill="none"/>
<polygon points="400.0,416.8 406.0,413.8 412.8,412.3 419.6,404.8 424.2,413.8 422.7,421.4 419.6,430.5 424.2,433.5 421.2,436.5 413.6,428.9 400.0,428.2" fill="#fcaf92" stroke="none"/>
<path d="M400.0 416.8L406.0 413.8M406.0 413.8L412.8 412.3M412.8 412.3L419.6 404.8M419.6 404.8L424.2 413.8M424.2 413.8L422.7 421.4M422.7 421.4L419.6 430.5M419.6 430.5L424.2 433.5M424.2 433.5L421.2 436.5M421.2 436.5L413.6 428.9M413.6 428.9L400.0 428.2" fill="none"/>
<polygon points="400.0,428.2 413.6,428.9 421.2,430.5 424.2,436.5 422.7,441.0 412.1,441.0 400.0,441.0" fill="#fde1d4" stroke="none"/>
<path d="M400.0 428.2L413.6 428.9M413.6 428.9L421.2 430.5M421.2 430.5L424.2 436.5M424.2 436.5L422.7 441.0M422.7 441.0L412.1 441.0M412.1 441.0L400.0 441.0" fill="none"/>
<polygon points="424.2,433.5 437.8,428.9 445.3,425.9 454.4,430.5 462.7,432.0 463.5,441.0 457.4,442.5 445.3,441.0 431.7,441.0 427.2,441.0 422.7,441.0" fill="#fcaf92" stroke="none"/>
<path d="M424.2 433.5L437.8 428.9M437.8 428.9L445.3 425.9M445.3 425.9L454.4 430.5M454.4 430.5L462.7 432.0M462.7 432.0L463.5 441.0M463.5 441.0L457.4 442.5M457.4 442.5L445.3 441.0M445.3 441.0L431.7 441.0M431.7 441.0L427.2 441.0M427.2 441.0L422.7 441.0M422.7 441.0L424.2 433.5" fill="none"/>
<polygon points="469.5,398.7 475.6,404.8 480.1,401.7 483.1,409.3 486.1,419.9 487.7,427.4 486.1,436.5 487.7,442.5 478.6,448.6 469.5,448.6 463.5,441.0 462.7,432.0 463.5,427.4 466.5,418.4 472.5,407.8" fill="#fcaf92" stroke="none"/>
<path d="M469.5 398.7L475.6 404.8M475.6 404.8L480.1 401.7M480.1 401.7L483.1 409.3M483.1 409.3L486.1 419.9M486.1 419.9L487.7 427.4M487.7 427.4L486.1 436.5M486.1 436.5L487.7 442.5M487.7 442.5L478.6 448.6M478.6 448.6L469.5 448.6M469.5 448.6L463.5 441.0M463.5 441.0L462.7 432.0M462.7 432.0L463.5 427.4M463.5 427.4L466.5 418.4M466.5 418.4L472.5 407.8M472.5 407.8L469.5 398.7" fill="none"/>
<polygon points="480.1,401.7 486.1,395.7 494.5,392.7 496.7,395.7 498.2,406.3 502.8,416.8 498.2,421.4 493.7,424.4 487.7,427.4 486.1,419.9 483.1,409.3" fill="#fa6b49" stroke="none"/>
<path d="M480.1 401.7L486.1 395.7M486.1 395.7L494.5 392.7M494.5 392.7L496.7 395.7M496.7 395.7L498.2 406.3M498.2 406.3L502.8 416.8M502.8 416.8L498.2 421.4M498.2 421.4L493.7 424.4M493.7 424.4L487.7 427.4M487.7 427.4L486.1 419.9M486.1 419.9L483.1 409.3M483.1 409.3L480.1 401.7" fill="none"/>
<polygon points="487.7,427.4 493.7,424.4 498.2,421.4 502.8,424.4 504.3,433.5 502.8,439.5 495.2,441.0 487.7,442.5 486.1,436.5" fill="#fa6b49" stroke="none"/>
<path d="M487.7 427.4L493.7 424.4M493.7 424.4L498.2 421.4M498.2 421.4L502.8 424.4M502.8 424.4L504.3 433.5M504.3 433.5L502.8 439.5M502.8 439.5L495.2 441.0M495.2 441.0L487.7 442.5M487.7 442.5L486.1 436.5M486.1 436.5L487.7 427.4" fill="none"/>
<polygon points="502.8,416.8 508.8,419.9 520.0,419.9 520.0,441.0 514.9,442.5 508.8,439.5 504.3,433.5 502.8,424.4 498.2,421.4" fill="#fcaf92" stroke="none"/>
<path d="M502.8 416.8L508.8 419.9M508.8 419.9L520.0 419.9M520.0 441.0L514.9 442.5M514.9 442.5L508.8 439.5M508.8 439.5L504.3 433.5M504.3 433.5L502.8 424.4M502.8 424.4L498.2 421.4M498.2 421.4L502.8 416.8" fill="none"/>
<polygon points="487.7,442.5 495.2,441.0 502.8,439.5 508.8,439.5 514.9,442.5 520.0,441.0 520.0,460.7 508.8,459.2 502.8,454.6 496.7,450.1 487.7,448.6 478.6,448.6" fill="#fcaf92" stroke="none"/>
<path d="M487.7 442.5L495.2 441.0M495.2 441.0L502.8 439.5M502.8 439.5L508.8 439.5M508.8 439.5L514.9 442.5M514.9 442.5L520.0 441.0M520.0 460.7L508.8 459.2M508.8 459.2L502.8 454.6M502.8 454.6L496.7 450.1M496.7 450.1L487.7 448.6M487.7 448.6L478.6 448.6M478.6 448.6L487.7 442.5" fill="none"/>
<polygon points="400.0,441.0 412.1,441.0 422.7,441.0 431.7,441.0 431.7,448.6 425.7,454.6 421.2,462.2 415.1,463.7 409.1,454.6 400.0,447.1" fill="#fa6b49" stroke="none"/>
<path d="M400.0 441.0L412.1 441.0M412.1 441.0L422.7 441.0M422.7 441.0L431.7 441.0M431.7 441.0L431.7 448.6M431.7 448.6L425.7 454.6M425.7 454.6L421.2 462.2M421.2 462.2L415.1 463.7M415.1 463.7L409.1 454.6M409.1 454.6L400.0 447.1" fill="none"/>
<polygon points="425.7,454.6 431.7,448.6 433.2,456.1 439.3,460.7 437.8,463.7 430.2,465.2 422.7,463.7 421.2,462.2" fill="#fa6b49" stroke="none"/>
<path d="M425.7 454.6L431.7 448.6M431.7 448.6L433.2 456.1M433.2 456.1L439.3 460.7M439.3 460.7L437.8 463.7M437.8 463.7L430.2 465.2M430.2 465.2L422.7 463.7M422.7 463.7L421.2 462.2M421.2 462.2L425.7 454.6" fill="none"/>
<polygon points="463.5,441.0 469.5,448.6 478.6,448.6 477.1,457.7 478.6,466.7 484.6,475.8 481.6,484.9 471.0,484.9 465.0,481.8 463.5,474.3 462.0,463.7 460.5,451.6 466.5,448.6" fill="#fcaf92" stroke="none"/>
<path d="M463.5 441.0L469.5 448.6M469.5 448.6L478.6 448.6M478.6 448.6L477.1 457.7M477.1 457.7L478.6 466.7M478.6 466.7L484.6 475.8M484.6 475.8L481.6 484.9M481.6 484.9L471.0 484.9M471.0 484.9L465.0 481.8M465.0 481.8L463.5 474.3M463.5 474.3L462.0 463.7M462.0 463.7L460.5 451.6M460.5 451.6L466.5 448.6M466.5 448.6L463.5 441.0" fill="none"/>
<polygon points="502.8,454.6 508.8,459.2 507.3,468.2 510.3,475.8 505.8,481.8 496.7,483.3 496.7,478.8 498.2,469.7 501.3,463.7" fill="#fa6b49" stroke="none"/>
<path d="M502.8 454.6L508.8 459.2M508.8 459.2L507.3 468.2M507.3 468.2L510.3 475.8M510.3 475.8L505.8 481.8M505.8 481.8L496.7 483.3M496.7 483.3L496.7 478.8M496.7 478.8L498.2 469.7M498.2 469.7L501.3 463.7M501.3 463.7L502.8 454.6" fill="none"/>
<polygon points="508.8,459.2 520.0,460.7 520.0,472.8 514.9,475.8 510.3,475.8 507.3,468.2" fill="#fcaf92" stroke="none"/>
<path d="M508.8 459.2L520.0 460.7M520.0 472.8L514.9 475.8M514.9 475.8L510.3 475.8M510.3 475.8L507.3 468.2M507.3 468.2L508.8 459.2" fill="none"/>
<polygon points="496.7,483.3 505.8,481.8 510.3,475.8 520.0,472.8 520.0,490.0 498.2,490.0" fill="#fde1d4" stroke="none"/>
<path d="M496.7 483.3L505.8 481.8M505.8 481.8L510.3 475.8M510.3 475.8L520.0 472.8M498.2 490.0L496.7 483.3" fill="none"/>
<polygon points="415.1,463.7 421.2,462.2 422.7,463.7 430.2,465.2 437.8,463.7 442.3,457.7 451.4,459.2 457.4,460.7 463.5,463.7 463.5,474.3 449.9,474.3 442.3,474.3 436.3,472.8 427.2,472.8 416.6,474.3" fill="#fa6b49" stroke="none"/>
<path d="M415.1 463.7L421.2 462.2M421.2 462.2L422.7 463.7M422.7 463.7L430.2 465.2M430.2 465.2L437.8 463.7M437.8 463.7L442.3 457.7M442.3 457.7L451.4 459.2M451.4 459.2L457.4 460.7M457.4 460.7L463.5 463.7M463.5 463.7L463.5 474.3M463.5 474.3L449.9 474.3M449.9 474.3L442.3 474.3M442.3 474.3L436.3 472.8M436.3 472.8L427.2 472.8M427.2 472.8L416.6 474.3M416.6 474.3L415.1 463.7" fill="none"/>
<polygon points="439.3,474.3 449.9,474.3 463.5,474.3 465.0,481.8 460.5,484.9 451.4,484.9 443.8,481.8 437.8,478.8" fill="#fcaf92" stroke="none"/>
<path d="M439.3 474.3L449.9 474.3M449.9 474.3L463.5 474.3M463.5 474.3L465.0 481.8M465.0 481.8L460.5 484.9M460.5 484.9L451.4 484.9M451.4 484.9L443.8 481.8M443.8 481.8L437.8 478.8M437.8 478.8L439.3 474.3" fill="none"/>
<polygon points="400.0,484.9 409.1,484.9 416.6,481.8 422.7,483.3 430.2,481.8 437.8,478.8 443.8,481.8 451.4,484.9 460.5,484.9 465.0,490.0 400.0,490.0" fill="#fa6b49" stroke="none"/>
<path d="M400.0 484.9L409.1 484.9M409.1 484.9L416.6 481.8M416.6 481.8L422.7 483.3M422.7 483.3L430.2 481.8M430.2 481.8L437.8 478.8M437.8 478.8L443.8 481.8M443.8 481.8L451.4 484.9M451.4 484.9L460.5 484.9M460.5 484.9L465.0 490.0" fill="none"/>
<polygon points="465.0,481.8 471.0,484.9 481.6,484.9 487.7,481.8 493.7,483.3 498.2,490.0 465.0,490.0" fill="#fcaf92" stroke="none"/>
<path d="M465.0 481.8L471.0 484.9M471.0 484.9L481.6 484.9M481.6 484.9L487.7 481.8M487.7 481.8L493.7 483.3M493.7 483.3L498.2 490.0M465.0 490.0L465.0 481.8" fill="none"/>
<polygon points="510.0,374.5 519.1,373.0 528.1,376.0 535.7,383.6 538.7,388.1 537.2,395.7 529.6,397.2 522.1,404.8 516.0,415.3 510.0,418.4" fill="#fa6b49" stroke="none"/>
<path d="M510.0 374.5L519.1 373.0M519.1 373.0L528.1 376.0M528.1 376.0L535.7 383.6M535.7 383.6L538.7 388.1M538.7 388.1L537.2 395.7M537.2 395.7L529.6 397.2M529.6 397.2L522.1 404.8M522.1 404.8L516.0 415.3M516.0 415.3L510.0 418.4" fill="none"/>
<polygon points="553.8,370.0 572.0,370.0 575.0,379.1 576.5,388.1 578.0,397.2 570.5,398.7 559.9,394.2 546.3,389.6 546.3,386.6 550.8,379.1" fill="#fcaf92" stroke="none"/>
<path d="M572.0 370.0L575.0 379.1M575.0 379.1L576.5 388.1M576.5 388.1L578.0 397.2M578.0 397.2L570.5 398.7M570.5 398.7L559.9 394.2M559.9 394.2L546.3 389.6M546.3 389.6L546.3 386.6M546.3 386.6L550.8 379.1M550.8 379.1L553.8 370.0" fill="none"/>
<polygon points="578.0,397.2 582.5,392.7 593.1,385.1 606.7,382.1 618.8,385.1 624.9,395.7 615.8,400.2 609.7,406.3 605.2,413.8 594.6,413.8 585.6,410.8 579.5,406.3" fill="#fa6b49" stroke="none"/>
<path d="M578.0 397.2L582.5 392.7M582.5 392.7L593.1 385.1M593.1 385.1L606.7 382.1M606.7 382.1L618.8 385.1M618.8 385.1L624.9 395.7M624.9 395.7L615.8 400.2M615.8 400.2L609.7 406.3M609.7 406.3L605.2 413.8M605.2 413.8L594.6 413.8M594.6 413.8L585.6 410.8M585.6 410.8L579.5 406.3M579.5 406.3L578.0 397.2" fill="none"/>
<polygon points="537.2,395.7 538.7,388.1 546.3,389.6 547.8,397.2 550.8,406.3 553.8,415.3 552.3,424.4 544.8,427.4 541.7,419.9 540.2,409.3" fill="#fa6b49" stroke="none"/>
<path d="M537.2 395.7L538.7 388.1M538.7 388.1L546.3 389.6M546.3 389.6L547.8 397.2M547.8 397.2L550.8 406.3M550.8 406.3L553.8 415.3M553.8 415.3L552.3 424.4M552.3 424.4L544.8 427.4M544.8 427.4L541.7 419.9M541.7 419.9L540.2 409.3M540.2 409.3L537.2 395.7" fill="none"/>
<polygon points="546.3,389.6 559.9,394.2 570.5,398.7 578.0,397.2 579.5,406.3 585.6,410.8 594.6,413.8 605.2,413.8 602.2,421.4 602.2,427.4 593.1,428.9 582.5,427.4 573.5,430.5 565.9,432.0 558.4,427.4 553.8,419.9 553.8,415.3 550.8,406.3 547.8,397.2" fill="#fcaf92" stroke="none"/>
<path d="M546.3 389.6L559.9 394.2M559.9 394.2L570.5 398.7M570.5 398.7L578.0 397.2M578.0 397.2L579.5 406.3M579.5 406.3L585.6 410.8M585.6 410.8L594.6 413.8M594.6 413.8L605.2 413.8M605.2 413.8L602.2 421.4M602.2 421.4L602.2 427.4M602.2 427.4L593.1 428.9M593.1 428.9L582.5 427.4M582.5 427.4L573.5 430.5M573.5 430.5L565.9 432.0M565.9 432.0L558.4 427.4M558.4 427.4L553.8 419.9M553.8 419.9L553.8 415.3M553.8 415.3L550.8 406.3M550.8 406.3L547.8 397.2M547.8 397.2L546.3 389.6" fill="none"/>
<polygon points="510.0,418.4 516.0,415.3 522.1,404.8 529.6,397.2 537.2,395.7 540.2,409.3 541.7,419.9 544.8,427.4 535.7,433.5 529.6,439.5 523.6,442.5 516.0,445.6 510.0,444.1" fill="#fcaf92" stroke="none"/>
<path d="M510.0 418.4L516.0 415.3M516.0 415.3L522.1 404.8M522.1 404.8L529.6 397.2M529.6 397.2L537.2 395.7M537.2 395.7L540.2 409.3M540.2 409.3L541.7 419.9M541.7 419.9L544.8 427.4M544.8 427.4L535.7 433.5M535.7 433.5L529.6 439.5M529.6 439.5L523.6 442.5M523.6 442.5L516.0 445.6M516.0 445.6L510.0 444.1" fill="none"/>
<polygon points="544.8,427.4 552.3,424.4 558.4,427.4 565.9,432.0 570.5,436.5 573.5,444.1 567.4,445.6 558.4,451.6 550.8,457.7 549.3,466.7 537.2,474.3 529.6,478.8 525.1,474.3 523.6,463.7 525.1,454.6 523.6,445.6 529.6,439.5 535.7,433.5" fill="#fa6b49" stroke="none"/>
<path d="M544.8 427.4L552.3 424.4M552.3 424.4L558.4 427.4M558.4 427.4L565.9 432.0M565.9 432.0L570.5 436.5M570.5 436.5L573.5 444.1M573.5 444.1L567.4 445.6M567.4 445.6L558.4 451.6M558.4 451.6L550.8 457.7M550.8 457.7L549.3 466.7M549.3 466.7L537.2 474.3M537.2 474.3L529.6 478.8M529.6 478.8L525.1 474.3M525.1 474.3L523.6 463.7M523.6 463.7L525.1 454.6M525.1 454.6L523.6 445.6M523.6 445.6L529.6 439.5M529.6 439.5L535.7 433.5M535.7 433.5L544.8 427.4" fill="none"/>
<polygon points="565.9,432.0 573.5,430.5 582.5,427.4 593.1,428.9 602.2,427.4 609.7,433.5 614.3,441.0 617.3,450.1 614.3,454.6 615.8,463.7 618.8,475.8 612.8,478.8 600.7,481.8 591.6,481.8 585.6,480.3 581.0,475.8 579.5,468.2 576.5,459.2 575.0,448.6 573.5,444.1 570.5,436.5" fill="#fa6b49" stroke="none"/>
<path d="M565.9 432.0L573.5 430.5M573.5 430.5L582.5 427.4M582.5 427.4L593.1 428.9M593.1 428.9L602.2 427.4M602.2 427.4L609.7 433.5M609.7 433.5L614.3 441.0M614.3 441.0L617.3 450.1M617.3 450.1L614.3 454.6M614.3 454.6L615.8 463.7M615.8 463.7L618.8 475.8M618.8 475.8L612.8 478.8M612.8 478.8L600.7 481.8M600.7 481.8L591.6 481.8M591.6 481.8L585.6 480.3M585.6 480.3L581.0 475.8M581.0 475.8L579.5 468.2M579.5 468.2L576.5 459.2M576.5 459.2L575.0 448.6M575.0 448.6L573.5 444.1M573.5 444.1L570.5 436.5M570.5 436.5L565.9 432.0" fill="none"/>
<polygon points="558.4,451.6 567.4,445.6 573.5,444.1 575.0,448.6 576.5,459.2 572.0,465.2 564.4,468.2 555.3,471.3 549.3,466.7 550.8,457.7" fill="#fcaf92" stroke="none"/>
<path d="M558.4 451.6L567.4 445.6M567.4 445.6L573.5 444.1M573.5 444.1L575.0 448.6M575.0 448.6L576.5 459.2M576.5 459.2L572.0 465.2M572.0 465.2L564.4 468.2M564.4 468.2L555.3 471.3M555.3 471.3L549.3 466.7M549.3 466.7L550.8 457.7M550.8 457.7L558.4 451.6" fill="none"/>
<polygon points="564.4,468.2 572.0,465.2 576.5,459.2 579.5,468.2 581.0,475.8 585.6,480.3 578.0,483.3 570.5,484.9 562.9,481.8 561.4,474.3" fill="#fcaf92" stroke="none"/>
<path d="M564.4 468.2L572.0 465.2M572.0 465.2L576.5 459.2M576.5 459.2L579.5 468.2M579.5 468.2L581.0 475.8M581.0 475.8L585.6 480.3M585.6 480.3L578.0 483.3M578.0 483.3L570.5 484.9M570.5 484.9L562.9 481.8M562.9 481.8L561.4 474.3M561.4 474.3L564.4 468.2" fill="none"/>
<polygon points="510.0,444.1 516.0,445.6 523.6,445.6 525.1,454.6 523.6,463.7 525.1,474.3 519.1,475.8 510.0,478.8" fill="#fcaf92" stroke="none"/>
<path d="M510.0 444.1L516.0 445.6M516.0 445.6L523.6 445.6M523.6 445.6L525.1 454.6M525.1 454.6L523.6 463.7M523.6 463.7L525.1 474.3M525.1 474.3L519.1 475.8M519.1 475.8L510.0 478.8" fill="none"/>
<polygon points="618.8,441.0 624.9,439.5 630.0,435.0 630.0,481.8 621.8,478.8 618.8,475.8 615.8,463.7 614.3,454.6 617.3,450.1" fill="#fcaf92" stroke="none"/>
<path d="M618.8 441.0L624.9 439.5M624.9 439.5L630.0 435.0M630.0 481.8L621.8 478.8M621.8 478.8L618.8 475.8M618.8 475.8L615.8 463.7M615.8 463.7L614.3 454.6M614.3 454.6L617.3 450.1M617.3 450.1L618.8 441.0" fill="none"/>
<polygon points="510.0,478.8 519.1,475.8 525.1,474.3 529.6,478.8 537.2,474.3 549.3,466.7 555.3,471.3 561.4,474.3 562.9,481.8 570.5,484.9 578.0,483.3 585.6,480.3 591.6,481.8 600.7,481.8 612.8,478.8 618.8,475.8 621.8,478.8 630.0,481.8 630.0,490.0 510.0,490.0" fill="#fde1d4" stroke="none"/>
<path d="M510.0 478.8L519.1 475.8M519.1 475.8L525.1 474.3M525.1 474.3L529.6 478.8M529.6 478.8L537.2 474.3M537.2 474.3L549.3 466.7M549.3 466.7L555.3 471.3M555.3 471.3L561.4 474.3M561.4 474.3L562.9 481.8M562.9 481.8L570.5 484.9M570.5 484.9L578.0 483.3M578.0 483.3L585.6 480.3M585.6 480.3L591.6 481.8M591.6 481.8L600.7 481.8M600.7 481.8L612.8 478.8M612.8 478.8L618.8 475.8M618.8 475.8L621.8 478.8M621.8 478.8L630.0 481.8" fill="none"/>
<polygon points="347.4,395.0 373.1,395.0 368.6,401.0 367.1,404.1 356.5,402.6 350.5,401.0" fill="#fa6b49" stroke="none"/>
<path d="M373.1 395.0L368.6 401.0M368.6 401.0L367.1 404.1M367.1 404.1L356.5 402.6M356.5 402.6L350.5 401.0M350.5 401.0L347.4 395.0" fill="none"/>
<polygon points="373.1,395.0 394.3,395.0 392.8,410.1 391.3,423.7 380.7,426.7 373.9,425.2 373.1,420.7 368.6,411.6 367.1,404.1 368.6,401.0" fill="#fa6b49" stroke="none"/>
<path d="M394.3 395.0L392.8 410.1M392.8 410.1L391.3 423.7M391.3 423.7L380.7 426.7M380.7 426.7L373.9 425.2M373.9 425.2L373.1 420.7M373.1 420.7L368.6 411.6M368.6 411.6L367.1 404.1M367.1 404.1L368.6 401.0M368.6 401.0L373.1 395.0" fill="none"/>
<polygon points="392.8,423.7 400.3,417.7 410.0,413.1 410.0,428.2 401.8,426.7" fill="#fcaf92" stroke="none"/>
<path d="M392.8 423.7L400.3 417.7M400.3 417.7L410.0 413.1M410.0 428.2L401.8 426.7M401.8 426.7L392.8 423.7" fill="none"/>
<polygon points="373.9,425.2 380.7,426.7 391.3,423.7 401.8,426.7 410.0,428.2 410.0,438.8 398.8,443.4 389.7,440.3 383.7,434.3 373.9,432.8" fill="#fde1d4" stroke="none"/>
<path d="M373.9 425.2L380.7 426.7M380.7 426.7L391.3 423.7M391.3 423.7L401.8 426.7M401.8 426.7L410.0 428.2M410.0 438.8L398.8 443.4M398.8 443.4L389.7 440.3M389.7 440.3L383.7 434.3M383.7 434.3L373.9 432.8M373.9 432.8L373.9 425.2" fill="none"/>
<polygon points="395.8,444.9 410.0,438.8 410.0,455.5 404.9,450.9" fill="#fa6b49" stroke="none"/>
<path d="M395.8 444.9L410.0 438.8M410.0 455.5L404.9 450.9M404.9 450.9L395.8 444.9" fill="none"/>
<polygon points="348.9,476.6 353.5,461.5 365.6,455.5 370.1,457.0 371.6,464.5 368.6,470.6 365.6,478.1 358.0,479.6" fill="#fa6b49" stroke="none"/>
<path d="M348.9 476.6L353.5 461.5M353.5 461.5L365.6 455.5M365.6 455.5L370.1 457.0M370.1 457.0L371.6 464.5M371.6 464.5L368.6 470.6M368.6 470.6L365.6 478.1M365.6 478.1L358.0 479.6M358.0 479.6L348.9 476.6" fill="none"/>
<polygon points="370.1,457.0 374.6,457.0 380.7,461.5 388.2,467.5 395.8,470.6 394.3,476.6 388.2,479.6 380.7,473.6 371.6,470.6 371.6,464.5" fill="#fa6b49" stroke="none"/>
<path d="M370.1 457.0L374.6 457.0M374.6 457.0L380.7 461.5M380.7 461.5L388.2 467.5M388.2 467.5L395.8 470.6M395.8 470.6L394.3 476.6M394.3 476.6L388.2 479.6M388.2 479.6L380.7 473.6M380.7 473.6L371.6 470.6M371.6 470.6L371.6 464.5M371.6 464.5L370.1 457.0" fill="none"/>
<polygon points="368.6,470.6 371.6,470.6 380.7,473.6 388.2,479.6 394.3,476.6 400.3,479.6 401.8,485.7 395.8,488.7 386.7,491.7 377.7,491.7 373.1,485.7 367.1,482.7 365.6,478.1" fill="#fcaf92" stroke="none"/>
<path d="M368.6 470.6L371.6 470.6M371.6 470.6L380.7 473.6M380.7 473.6L388.2 479.6M388.2 479.6L394.3 476.6M394.3 476.6L400.3 479.6M400.3 479.6L401.8 485.7M401.8 485.7L395.8 488.7M395.8 488.7L386.7 491.7M386.7 491.7L377.7 491.7M377.7 491.7L373.1 485.7M373.1 485.7L367.1 482.7M367.1 482.7L365.6 478.1M365.6 478.1L368.6 470.6" fill="none"/>
<polygon points="395.8,470.6 410.0,467.5 410.0,484.2 401.8,485.7 400.3,479.6 394.3,476.6" fill="#d4302d" stroke="none"/>
<path d="M395.8 470.6L410.0 467.5M410.0 484.2L401.8 485.7M401.8 485.7L400.3 479.6M400.3 479.6L394.3 476.6M394.3 476.6L395.8 470.6" fill="none"/>
<polygon points="290.0,537.0 299.1,539.3 312.7,540.0 324.8,538.5 327.8,545.3 333.8,555.9 329.3,558.9 321.7,562.7 318.7,558.9 308.1,555.9 296.8,558.9 294.5,551.4 290.0,543.8" fill="#fa6b49" stroke="none"/>
<path d="M290.0 537.0L299.1 539.3M299.1 539.3L312.7 540.0M312.7 540.0L324.8 538.5M324.8 538.5L327.8 545.3M327.8 545.3L333.8 555.9M333.8 555.9L329.3 558.9M329.3 558.9L321.7 562.7M321.7 562.7L318.7 558.9M318.7 558.9L308.1 555.9M308.1 555.9L296.8 558.9M296.8 558.9L294.5 551.4M294.5 551.4L290.0 543.8" fill="none"/>
<polygon points="321.7,562.7 329.3,558.9 333.8,555.9 339.9,555.2 350.5,556.7 361.0,555.9 368.6,558.9 374.6,565.0 368.6,569.5 362.5,572.5 359.5,580.1 353.5,587.7 348.9,584.6 347.4,578.6 344.4,572.5 341.4,566.5 338.4,562.0" fill="#fcaf92" stroke="none"/>
<path d="M321.7 562.7L329.3 558.9M329.3 558.9L333.8 555.9M333.8 555.9L339.9 555.2M339.9 555.2L350.5 556.7M350.5 556.7L361.0 555.9M361.0 555.9L368.6 558.9M368.6 558.9L374.6 565.0M374.6 565.0L368.6 569.5M368.6 569.5L362.5 572.5M362.5 572.5L359.5 580.1M359.5 580.1L353.5 587.7M353.5 587.7L348.9 584.6M348.9 584.6L347.4 578.6M347.4 578.6L344.4 572.5M344.4 572.5L341.4 566.5M341.4 566.5L338.4 562.0M338.4 562.0L321.7 562.7" fill="none"/>
<polygon points="353.5,587.7 359.5,580.1 362.5,572.5 374.6,568.0 388.2,563.5 392.8,569.5 398.8,574.1 410.0,575.6 410.0,596.7 401.8,599.7 395.8,602.8 388.2,605.8 374.6,604.3 365.6,596.7 356.5,590.7" fill="#fcaf92" stroke="none"/>
<path d="M353.5 587.7L359.5 580.1M359.5 580.1L362.5 572.5M362.5 572.5L374.6 568.0M374.6 568.0L388.2 563.5M388.2 563.5L392.8 569.5M392.8 569.5L398.8 574.1M398.8 574.1L410.0 575.6M410.0 596.7L401.8 599.7M401.8 599.7L395.8 602.8M395.8 602.8L388.2 605.8M388.2 605.8L374.6 604.3M374.6 604.3L365.6 596.7M365.6 596.7L356.5 590.7M356.5 590.7L353.5 587.7" fill="none"/>
<polygon points="342.9,590.7 353.5,587.7 356.5,590.7 365.6,596.7 374.6,604.3 380.7,608.8 379.2,620.0 356.5,620.0 348.9,611.8 344.4,605.8 344.4,596.7" fill="#fcaf92" stroke="none"/>
<path d="M342.9 590.7L353.5 587.7M353.5 587.7L356.5 590.7M356.5 590.7L365.6 596.7M365.6 596.7L374.6 604.3M374.6 604.3L380.7 608.8M380.7 608.8L379.2 620.0M356.5 620.0L348.9 611.8M348.9 611.8L344.4 605.8M344.4 605.8L344.4 596.7M344.4 596.7L342.9 590.7" fill="none"/>
<polygon points="382.2,534.8 392.8,531.7 404.9,529.5 410.0,530.2 410.0,548.4 398.8,548.4 386.7,545.3 383.7,540.8" fill="#fcaf92" stroke="none"/>
<path d="M382.2 534.8L392.8 531.7M392.8 531.7L404.9 529.5M404.9 529.5L410.0 530.2M410.0 548.4L398.8 548.4M398.8 548.4L386.7 545.3M386.7 545.3L383.7 540.8M383.7 540.8L382.2 534.8" fill="none"/>
<polygon points="385.2,546.8 398.8,548.4 410.0,548.4 410.0,575.6 398.8,574.1 392.8,569.5 388.2,563.5 386.7,555.9" fill="#fa6b49" stroke="none"/>
<path d="M385.2 546.8L398.8 548.4M398.8 548.4L410.0 548.4M410.0 575.6L398.8 574.1M398.8 574.1L392.8 569.5M392.8 569.5L388.2 563.5M388.2 563.5L386.7 555.9M386.7 555.9L385.2 546.8" fill="none"/>
<polygon points="404.9,575.6 410.0,575.6 410.0,620.0 395.8,620.0 398.8,611.8 404.9,605.8 407.9,593.7 404.9,584.6" fill="#fde1d4" stroke="none"/>
<path d="M404.9 575.6L410.0 575.6M395.8 620.0L398.8 611.8M398.8 611.8L404.9 605.8M404.9 605.8L407.9 593.7M407.9 593.7L404.9 584.6M404.9 584.6L404.9 575.6" fill="none"/>
<polygon points="380.7,608.8 389.7,604.3 395.8,602.8 398.8,611.8 395.8,620.0 379.2,620.0" fill="#fde1d4" stroke="none"/>
<path d="M380.7 608.8L389.7 604.3M389.7 604.3L395.8 602.8M395.8 602.8L398.8 611.8M398.8 611.8L395.8 620.0M379.2 620.0L380.7 608.8" fill="none"/>
<polygon points="346.8,590.0 356.6,590.0 370.2,594.5 383.8,603.6 382.3,612.7 377.8,620.2 376.3,630.8 370.2,627.0 362.7,626.3 361.2,621.7 355.1,612.7 346.0,606.6 344.5,597.6" fill="#fcaf92" stroke="none"/>
<path d="M356.6 590.0L370.2 594.5M370.2 594.5L383.8 603.6M383.8 603.6L382.3 612.7M382.3 612.7L377.8 620.2M377.8 620.2L376.3 630.8M376.3 630.8L370.2 627.0M370.2 627.0L362.7 626.3M362.7 626.3L361.2 621.7M361.2 621.7L355.1 612.7M355.1 612.7L346.0 606.6M346.0 606.6L344.5 597.6M344.5 597.6L346.8 590.0" fill="none"/>
<polygon points="356.6,590.0 411.0,590.0 406.5,599.1 400.5,602.1 389.9,600.6 383.8,603.6 370.2,594.5" fill="#fcaf92" stroke="none"/>
<path d="M411.0 590.0L406.5 599.1M406.5 599.1L400.5 602.1M400.5 602.1L389.9 600.6M389.9 600.6L383.8 603.6M383.8 603.6L370.2 594.5M370.2 594.5L356.6 590.0" fill="none"/>
<polygon points="383.8,603.6 389.9,600.6 400.5,602.1 402.0,612.7 392.9,614.2 385.3,617.2 382.3,612.7" fill="#fcaf92" stroke="none"/>
<path d="M383.8 603.6L389.9 600.6M389.9 600.6L400.5 602.1M400.5 602.1L402.0 612.7M402.0 612.7L392.9 614.2M392.9 614.2L385.3 617.2M385.3 617.2L382.3 612.7M382.3 612.7L383.8 603.6" fill="none"/>
<polygon points="377.8,620.2 382.3,612.7 385.3,617.2 392.9,614.2 402.0,612.7 405.0,620.2 412.5,629.3 414.1,636.8 411.0,641.4 409.5,641.4 403.5,635.3 397.4,635.3 391.4,639.1 385.3,638.4 376.3,630.8" fill="#fde1d4" stroke="none"/>
<path d="M377.8 620.2L382.3 612.7M382.3 612.7L385.3 617.2M385.3 617.2L392.9 614.2M392.9 614.2L402.0 612.7M402.0 612.7L405.0 620.2M405.0 620.2L412.5 629.3M412.5 629.3L414.1 636.8M414.1 636.8L411.0 641.4M411.0 641.4L409.5 641.4M409.5 641.4L403.5 635.3M403.5 635.3L397.4 635.3M397.4 635.3L391.4 639.1M391.4 639.1L385.3 638.4M385.3 638.4L376.3 630.8M376.3 630.8L377.8 620.2" fill="none"/>
<polygon points="402.0,612.7 400.5,602.1 406.5,599.1 411.0,590.0 433.7,590.0 436.7,596.0 439.7,608.1 438.2,620.2 433.7,626.3 424.6,627.8 420.1,632.3 412.5,629.3 405.0,620.2" fill="#fde1d4" stroke="none"/>
<path d="M402.0 612.7L400.5 602.1M400.5 602.1L406.5 599.1M406.5 599.1L411.0 590.0M433.7 590.0L436.7 596.0M436.7 596.0L439.7 608.1M439.7 608.1L438.2 620.2M438.2 620.2L433.7 626.3M433.7 626.3L424.6 627.8M424.6 627.8L420.1 632.3M420.1 632.3L412.5 629.3M412.5 629.3L405.0 620.2M405.0 620.2L402.0 612.7" fill="none"/>
<polygon points="433.7,590.0 460.0,590.0 460.0,605.1 454.9,609.6 445.8,612.7 439.7,608.1 436.7,596.0" fill="#fcaf92" stroke="none"/>
<path d="M460.0 605.1L454.9 609.6M454.9 609.6L445.8 612.7M445.8 612.7L439.7 608.1M439.7 608.1L436.7 596.0M436.7 596.0L433.7 590.0" fill="none"/>
<polygon points="439.7,608.1 445.8,612.7 454.9,609.6 460.0,605.1 460.0,639.9 450.3,635.3 442.8,630.8 438.2,620.2" fill="#fcaf92" stroke="none"/>
<path d="M439.7 608.1L445.8 612.7M445.8 612.7L454.9 609.6M454.9 609.6L460.0 605.1M460.0 639.9L450.3 635.3M450.3 635.3L442.8 630.8M442.8 630.8L438.2 620.2M438.2 620.2L439.7 608.1" fill="none"/>
<polygon points="433.7,632.3 442.8,630.8 450.3,635.3 460.0,639.9 460.0,659.5 445.8,661.0 436.7,659.5 435.2,650.5" fill="#fcaf92" stroke="none"/>
<path d="M433.7 632.3L442.8 630.8M442.8 630.8L450.3 635.3M450.3 635.3L460.0 639.9M460.0 659.5L445.8 661.0M445.8 661.0L436.7 659.5M436.7 659.5L435.2 650.5M435.2 650.5L433.7 632.3" fill="none"/>
<polygon points="412.5,629.3 420.1,632.3 424.6,627.8 433.7,626.3 438.2,620.2 442.8,630.8 433.7,632.3 435.2,650.5 436.7,659.5 430.7,658.0 418.6,659.5 412.5,662.5 411.0,661.0 407.3,656.5 408.0,650.5 411.0,644.4 414.1,636.8" fill="#fde1d4" stroke="none"/>
<path d="M412.5 629.3L420.1 632.3M420.1 632.3L424.6 627.8M424.6 627.8L433.7 626.3M433.7 626.3L438.2 620.2M438.2 620.2L442.8 630.8M442.8 630.8L433.7 632.3M433.7 632.3L435.2 650.5M435.2 650.5L436.7 659.5M436.7 659.5L430.7 658.0M430.7 658.0L418.6 659.5M418.6 659.5L412.5 662.5M412.5 662.5L411.0 661.0M411.0 661.0L407.3 656.5M407.3 656.5L408.0 650.5M408.0 650.5L411.0 644.4M411.0 644.4L414.1 636.8M414.1 636.8L412.5 629.3" fill="none"/>
<polygon points="411.0,661.0 418.6,659.5 430.7,658.0 436.7,659.5 445.8,661.0 460.0,659.5 460.0,670.1 448.8,668.6 439.7,671.6 432.2,674.6 429.2,680.7 424.6,680.7 412.5,674.6 408.0,671.6 408.0,664.1" fill="#fa6b49" stroke="none"/>
<path d="M411.0 661.0L418.6 659.5M418.6 659.5L430.7 658.0M430.7 658.0L436.7 659.5M436.7 659.5L445.8 661.0M445.8 661.0L460.0 659.5M460.0 670.1L448.8 668.6M448.8 668.6L439.7 671.6M439.7 671.6L432.2 674.6M432.2 674.6L429.2 680.7M429.2 680.7L424.6 680.7M424.6 680.7L412.5 674.6M412.5 674.6L408.0 671.6M408.0 671.6L408.0 664.1M408.0 664.1L411.0 661.0" fill="none"/>
<polygon points="408.0,664.1 412.5,674.6 424.6,680.7 429.2,683.7 424.6,689.7 417.1,692.8 412.5,704.9 406.5,704.9 403.5,701.8 405.0,692.8 402.0,686.7 400.5,680.7 403.5,670.1" fill="#fa6b49" stroke="none"/>
<path d="M408.0 664.1L412.5 674.6M412.5 674.6L424.6 680.7M424.6 680.7L429.2 683.7M429.2 683.7L424.6 689.7M424.6 689.7L417.1 692.8M417.1 692.8L412.5 704.9M412.5 704.9L406.5 704.9M406.5 704.9L403.5 701.8M403.5 701.8L405.0 692.8M405.0 692.8L402.0 686.7M402.0 686.7L400.5 680.7M400.5 680.7L403.5 670.1M403.5 670.1L408.0 664.1" fill="none"/>
<polygon points="417.1,692.8 424.6,689.7 429.2,692.8 433.7,695.8 435.2,700.3 432.2,704.9 430.7,710.0 418.6,710.0 415.6,707.9 412.5,704.9" fill="#a72427" stroke="none"/>
<path d="M417.1 692.8L424.6 689.7M424.6 689.7L429.2 692.8M429.2 692.8L433.7 695.8M433.7 695.8L435.2 700.3M435.2 700.3L432.2 704.9M432.2 704.9L430.7 710.0M418.6 710.0L415.6 707.9M415.6 707.9L412.5 704.9M412.5 704.9L417.1 692.8" fill="none"/>
<polygon points="403.0,483.0 412.1,480.0 422.7,480.0 424.2,489.1 422.7,493.6 424.2,502.7 415.1,504.2 406.0,502.7 406.0,489.1" fill="#fa6b49" stroke="none"/>
<path d="M403.0 483.0L412.1 480.0M422.7 480.0L424.2 489.1M424.2 489.1L422.7 493.6M422.7 493.6L424.2 502.7M424.2 502.7L415.1 504.2M415.1 504.2L406.0 502.7M406.0 502.7L406.0 489.1M406.0 489.1L403.0 483.0" fill="none"/>
<polygon points="422.7,480.0 445.3,480.0 451.4,486.0 457.4,490.6 454.4,495.1 454.4,504.2 440.8,507.2 433.2,504.2 424.2,502.7 422.7,493.6 424.2,489.1" fill="#fa6b49" stroke="none"/>
<path d="M445.3 480.0L451.4 486.0M451.4 486.0L457.4 490.6M457.4 490.6L454.4 495.1M454.4 495.1L454.4 504.2M454.4 504.2L440.8 507.2M440.8 507.2L433.2 504.2M433.2 504.2L424.2 502.7M424.2 502.7L422.7 493.6M422.7 493.6L424.2 489.1M424.2 489.1L422.7 480.0" fill="none"/>
<polygon points="451.4,486.0 463.5,486.8 474.1,487.6 472.5,505.7 460.5,505.7 454.4,504.2 454.4,495.1 446.8,492.8" fill="#fa6b49" stroke="none"/>
<path d="M451.4 486.0L463.5 486.8M463.5 486.8L474.1 487.6M474.1 487.6L472.5 505.7M472.5 505.7L460.5 505.7M460.5 505.7L454.4 504.2M454.4 504.2L454.4 495.1M454.4 495.1L446.8 492.8M446.8 492.8L451.4 486.0" fill="none"/>
<polygon points="474.1,487.6 484.6,484.5 498.2,486.0 499.7,492.1 490.7,499.6 481.6,505.7 472.5,505.7" fill="#fa6b49" stroke="none"/>
<path d="M474.1 487.6L484.6 484.5M484.6 484.5L498.2 486.0M498.2 486.0L499.7 492.1M499.7 492.1L490.7 499.6M490.7 499.6L481.6 505.7M481.6 505.7L472.5 505.7M472.5 505.7L474.1 487.6" fill="none"/>
<polygon points="490.7,499.6 499.7,492.1 505.8,498.1 507.3,507.2 513.3,508.0 505.8,511.7 499.7,514.8 490.7,510.2 481.6,505.7" fill="#fcaf92" stroke="none"/>
<path d="M490.7 499.6L499.7 492.1M499.7 492.1L505.8 498.1M505.8 498.1L507.3 507.2M507.3 507.2L513.3 508.0M513.3 508.0L505.8 511.7M505.8 511.7L499.7 514.8M499.7 514.8L490.7 510.2M490.7 510.2L481.6 505.7M481.6 505.7L490.7 499.6" fill="none"/>
<polygon points="498.2,486.0 499.7,480.0 520.0,480.0 520.0,525.3 505.8,525.3 502.8,519.3 499.7,514.8 505.8,511.7 513.3,508.0 507.3,507.2 505.8,498.1 499.7,492.1" fill="#fde1d4" stroke="none"/>
<path d="M498.2 486.0L499.7 480.0M520.0 525.3L505.8 525.3M505.8 525.3L502.8 519.3M502.8 519.3L499.7 514.8M499.7 514.8L505.8 511.7M505.8 511.7L513.3 508.0M513.3 508.0L507.3 507.2M507.3 507.2L505.8 498.1M505.8 498.1L499.7 492.1M499.7 492.1L498.2 486.0" fill="none"/>
<polygon points="400.0,505.7 415.1,504.2 424.2,502.7 433.2,504.2 440.8,507.2 443.8,516.3 442.3,525.3 440.8,537.4 436.3,529.9 428.7,528.4 415.1,528.4 400.0,529.9" fill="#d4302d" stroke="none"/>
<path d="M400.0 505.7L415.1 504.2M415.1 504.2L424.2 502.7M424.2 502.7L433.2 504.2M433.2 504.2L440.8 507.2M440.8 507.2L443.8 516.3M443.8 516.3L442.3 525.3M442.3 525.3L440.8 537.4M440.8 537.4L436.3 529.9M436.3 529.9L428.7 528.4M428.7 528.4L415.1 528.4M415.1 528.4L400.0 529.9" fill="none"/>
<polygon points="440.8,507.2 454.4,504.2 460.5,505.7 472.5,505.7 481.6,505.7 490.7,510.2 499.7,514.8 502.8,519.3 502.8,523.8 493.7,529.9 481.6,534.4 478.6,540.5 469.5,543.5 463.5,538.9 452.9,537.4 442.3,540.5 440.8,537.4 442.3,525.3 443.8,516.3" fill="#fcaf92" stroke="none"/>
<path d="M440.8 507.2L454.4 504.2M454.4 504.2L460.5 505.7M460.5 505.7L472.5 505.7M472.5 505.7L481.6 505.7M481.6 505.7L490.7 510.2M490.7 510.2L499.7 514.8M499.7 514.8L502.8 519.3M502.8 519.3L502.8 523.8M502.8 523.8L493.7 529.9M493.7 529.9L481.6 534.4M481.6 534.4L478.6 540.5M478.6 540.5L469.5 543.5M469.5 543.5L463.5 538.9M463.5 538.9L452.9 537.4M452.9 537.4L442.3 540.5M442.3 540.5L440.8 537.4M440.8 537.4L442.3 525.3M442.3 525.3L443.8 516.3M443.8 516.3L440.8 507.2" fill="none"/>
<polygon points="400.0,529.9 415.1,528.4 428.7,528.4 436.3,529.9 440.8,537.4 442.3,540.5 440.8,549.5 430.2,554.1 422.7,552.5 412.1,549.5 400.0,548.8" fill="#fcaf92" stroke="none"/>
<path d="M400.0 529.9L415.1 528.4M415.1 528.4L428.7 528.4M428.7 528.4L436.3 529.9M436.3 529.9L440.8 537.4M440.8 537.4L442.3 540.5M442.3 540.5L440.8 549.5M440.8 549.5L430.2 554.1M430.2 554.1L422.7 552.5M422.7 552.5L412.1 549.5M412.1 549.5L400.0 548.8" fill="none"/>
<polygon points="442.3,540.5 452.9,537.4 463.5,538.9 469.5,543.5 469.5,549.5 457.4,558.6 445.3,562.4 443.8,555.6 440.8,549.5" fill="#fcaf92" stroke="none"/>
<path d="M442.3 540.5L452.9 537.4M452.9 537.4L463.5 538.9M463.5 538.9L469.5 543.5M469.5 543.5L469.5 549.5M469.5 549.5L457.4 558.6M457.4 558.6L445.3 562.4M445.3 562.4L443.8 555.6M443.8 555.6L440.8 549.5M440.8 549.5L442.3 540.5" fill="none"/>
<polygon points="400.0,548.8 412.1,549.5 422.7,552.5 425.7,554.1 421.2,560.1 416.6,567.7 415.1,573.7 400.0,575.2" fill="#fa6b49" stroke="none"/>
<path d="M400.0 548.8L412.1 549.5M412.1 549.5L422.7 552.5M422.7 552.5L425.7 554.1M425.7 554.1L421.2 560.1M421.2 560.1L416.6 567.7M416.6 567.7L415.1 573.7M415.1 573.7L400.0 575.2" fill="none"/>
<polygon points="425.7,554.1 430.2,554.1 440.8,549.5 443.8,555.6 445.3,562.4 442.3,572.2 436.3,576.7 428.7,579.7 416.6,582.8 415.1,573.7 416.6,567.7 421.2,560.1" fill="#fcaf92" stroke="none"/>
<path d="M425.7 554.1L430.2 554.1M430.2 554.1L440.8 549.5M440.8 549.5L443.8 555.6M443.8 555.6L445.3 562.4M445.3 562.4L442.3 572.2M442.3 572.2L436.3 576.7M436.3 576.7L428.7 579.7M428.7 579.7L416.6 582.8M416.6 582.8L415.1 573.7M415.1 573.7L416.6 567.7M416.6 567.7L421.2 560.1M421.2 560.1L425.7 554.1" fill="none"/>
<polygon points="469.5,549.5 478.6,540.5 481.6,534.4 493.7,529.9 502.8,523.8 505.8,525.3 520.0,525.3 520.0,578.2 508.8,578.2 496.7,570.7 484.6,573.7 478.6,564.6 475.6,555.6" fill="#fde1d4" stroke="none"/>
<path d="M469.5 549.5L478.6 540.5M478.6 540.5L481.6 534.4M481.6 534.4L493.7 529.9M493.7 529.9L502.8 523.8M502.8 523.8L505.8 525.3M505.8 525.3L520.0 525.3M520.0 578.2L508.8 578.2M508.8 578.2L496.7 570.7M496.7 570.7L484.6 573.7M484.6 573.7L478.6 564.6M478.6 564.6L475.6 555.6M475.6 555.6L469.5 549.5" fill="none"/>
<polygon points="445.3,562.4 457.4,558.6 469.5,549.5 475.6,555.6 478.6,564.6 481.6,573.7 478.6,582.8 469.5,584.3 460.5,581.3 449.9,579.7 443.8,576.7 442.3,572.2" fill="#fcaf92" stroke="none"/>
<path d="M445.3 562.4L457.4 558.6M457.4 558.6L469.5 549.5M469.5 549.5L475.6 555.6M475.6 555.6L478.6 564.6M478.6 564.6L481.6 573.7M481.6 573.7L478.6 582.8M478.6 582.8L469.5 584.3M469.5 584.3L460.5 581.3M460.5 581.3L449.9 579.7M449.9 579.7L443.8 576.7M443.8 576.7L442.3 572.2M442.3 572.2L445.3 562.4" fill="none"/>
<polygon points="400.0,575.2 415.1,573.7 416.6,582.8 428.7,579.7 436.3,576.7 442.3,572.2 443.8,576.7 449.9,579.7 457.4,582.8 455.9,600.0 400.0,600.0" fill="#fde1d4" stroke="none"/>
<path d="M400.0 575.2L415.1 573.7M415.1 573.7L416.6 582.8M416.6 582.8L428.7 579.7M428.7 579.7L436.3 576.7M436.3 576.7L442.3 572.2M442.3 572.2L443.8 576.7M443.8 576.7L449.9 579.7M449.9 579.7L457.4 582.8M457.4 582.8L455.9 600.0" fill="none"/>
<polygon points="457.4,582.8 460.5,581.3 469.5,584.3 478.6,582.8 484.6,585.8 484.6,600.0 455.9,600.0" fill="#fcaf92" stroke="none"/>
<path d="M457.4 582.8L460.5 581.3M460.5 581.3L469.5 584.3M469.5 584.3L478.6 582.8M478.6 582.8L484.6 585.8M484.6 585.8L484.6 600.0M455.9 600.0L457.4 582.8" fill="none"/>
<polygon points="481.6,573.7 484.6,573.7 496.7,570.7 508.8,578.2 508.8,585.8 502.8,593.3 490.7,594.9 484.6,588.8 478.6,582.8" fill="#fcaf92" stroke="none"/>
<path d="M481.6 573.7L484.6 573.7M484.6 573.7L496.7 570.7M496.7 570.7L508.8 578.2M508.8 578.2L508.8 585.8M508.8 585.8L502.8 593.3M502.8 593.3L490.7 594.9M490.7 594.9L484.6 588.8M484.6 588.8L478.6 582.8M478.6 582.8L481.6 573.7" fill="none"/>
<polygon points="484.6,593.3 498.2,594.9 508.8,591.8 520.0,585.8 520.0,600.0 484.6,600.0" fill="#fcaf92" stroke="none"/>
<path d="M484.6 593.3L498.2 594.9M498.2 594.9L508.8 591.8M508.8 591.8L520.0 585.8M484.6 600.0L484.6 593.3" fill="none"/>
<polygon points="600.0,400.0 610.6,400.0 609.1,406.0 604.5,412.1 600.0,413.6" fill="#fa6b49" stroke="none"/>
<path d="M610.6 400.0L609.1 406.0M609.1 406.0L604.5 412.1M604.5 412.1L600.0 413.6" fill="none"/>
<polygon points="610.6,400.0 628.7,400.0 630.2,406.0 634.8,415.1 637.8,424.2 636.3,431.7 630.2,434.8 624.2,437.8 619.6,440.8 616.6,449.9 612.1,439.3 607.6,430.2 601.5,428.7 603.0,419.6 606.0,413.6 609.1,406.0" fill="#d4302d" stroke="none"/>
<path d="M628.7 400.0L630.2 406.0M630.2 406.0L634.8 415.1M634.8 415.1L637.8 424.2M637.8 424.2L636.3 431.7M636.3 431.7L630.2 434.8M630.2 434.8L624.2 437.8M624.2 437.8L619.6 440.8M619.6 440.8L616.6 449.9M616.6 449.9L612.1 439.3M612.1 439.3L607.6 430.2M607.6 430.2L601.5 428.7M601.5 428.7L603.0 419.6M603.0 419.6L606.0 413.6M606.0 413.6L609.1 406.0M609.1 406.0L610.6 400.0" fill="none"/>
<polygon points="628.7,400.0 660.5,400.0 666.5,409.1 678.6,413.6 684.6,418.1 689.2,422.7 687.7,430.2 689.2,439.3 686.1,448.4 681.6,451.4 675.6,452.9 669.5,455.9 663.5,462.0 660.5,457.4 655.9,443.8 649.9,445.3 645.3,443.8 637.8,434.8 636.3,431.7 637.8,424.2 634.8,415.1 630.2,406.0" fill="#fa6b49" stroke="none"/>
<path d="M660.5 400.0L666.5 409.1M666.5 409.1L678.6 413.6M678.6 413.6L684.6 418.1M684.6 418.1L689.2 422.7M689.2 422.7L687.7 430.2M687.7 430.2L689.2 439.3M689.2 439.3L686.1 448.4M686.1 448.4L681.6 451.4M681.6 451.4L675.6 452.9M675.6 452.9L669.5 455.9M669.5 455.9L663.5 462.0M663.5 462.0L660.5 457.4M660.5 457.4L655.9 443.8M655.9 443.8L649.9 445.3M649.9 445.3L645.3 443.8M645.3 443.8L637.8 434.8M637.8 434.8L636.3 431.7M636.3 431.7L637.8 424.2M637.8 424.2L634.8 415.1M634.8 415.1L630.2 406.0M630.2 406.0L628.7 400.0" fill="none"/>
<polygon points="660.5,400.0 720.0,400.0 720.0,404.5 705.8,415.1 696.7,416.6 689.2,422.7 684.6,418.1 678.6,413.6 666.5,409.1" fill="#d4302d" stroke="none"/>
<path d="M720.0 404.5L705.8 415.1M705.8 415.1L696.7 416.6M696.7 416.6L689.2 422.7M689.2 422.7L684.6 418.1M684.6 418.1L678.6 413.6M678.6 413.6L666.5 409.1M666.5 409.1L660.5 400.0" fill="none"/>
<polygon points="600.0,413.6 604.5,412.1 603.0,419.6 601.5,428.7 607.6,430.2 612.1,439.3 616.6,449.9 615.1,460.5 618.1,472.5 619.6,480.1 609.1,481.6 600.0,483.1" fill="#fa6b49" stroke="none"/>
<path d="M600.0 413.6L604.5 412.1M604.5 412.1L603.0 419.6M603.0 419.6L601.5 428.7M601.5 428.7L607.6 430.2M607.6 430.2L612.1 439.3M612.1 439.3L616.6 449.9M616.6 449.9L615.1 460.5M615.1 460.5L618.1 472.5M618.1 472.5L619.6 480.1M619.6 480.1L609.1 481.6M609.1 481.6L600.0 483.1" fill="none"/>
<polygon points="616.6,449.9 619.6,440.8 624.2,437.8 630.2,434.8 636.3,431.7 637.8,434.8 645.3,443.8 649.9,445.3 655.9,443.8 660.5,457.4 663.5,462.0 660.5,466.5 658.9,472.5 660.5,480.1 649.9,482.4 636.3,482.4 622.7,481.6 619.6,480.1 618.1,472.5 615.1,460.5" fill="#fcaf92" stroke="none"/>
<path d="M616.6 449.9L619.6 440.8M619.6 440.8L624.2 437.8M624.2 437.8L630.2 434.8M630.2 434.8L636.3 431.7M636.3 431.7L637.8 434.8M637.8 434.8L645.3 443.8M645.3 443.8L649.9 445.3M649.9 445.3L655.9 443.8M655.9 443.8L660.5 457.4M660.5 457.4L663.5 462.0M663.5 462.0L660.5 466.5M660.5 466.5L658.9 472.5M658.9 472.5L660.5 480.1M660.5 480.1L649.9 482.4M649.9 482.4L636.3 482.4M636.3 482.4L622.7 481.6M622.7 481.6L619.6 480.1M619.6 480.1L618.1 472.5M618.1 472.5L615.1 460.5M615.1 460.5L616.6 449.9" fill="none"/>
<polygon points="600.0,483.1 609.1,481.6 619.6,480.1 622.7,481.6 616.6,490.7 615.1,502.8 612.1,520.0 600.0,520.0" fill="#fde1d4" stroke="none"/>
<path d="M600.0 483.1L609.1 481.6M609.1 481.6L619.6 480.1M619.6 480.1L622.7 481.6M622.7 481.6L616.6 490.7M616.6 490.7L615.1 502.8M615.1 502.8L612.1 520.0" fill="none"/>
<polygon points="622.7,481.6 636.3,482.4 639.3,484.6 637.8,493.7 636.3,505.8 634.8,514.9 637.8,520.0 612.1,520.0 615.1,502.8 616.6,490.7" fill="#fcaf92" stroke="none"/>
<path d="M622.7 481.6L636.3 482.4M636.3 482.4L639.3 484.6M639.3 484.6L637.8 493.7M637.8 493.7L636.3 505.8M636.3 505.8L634.8 514.9M634.8 514.9L637.8 520.0M612.1 520.0L615.1 502.8M615.1 502.8L616.6 490.7M616.6 490.7L622.7 481.6" fill="none"/>
<polygon points="636.3,482.4 649.9,482.4 652.9,484.6 654.4,493.7 648.4,499.7 639.3,501.3 637.8,493.7 639.3,484.6" fill="#fcaf92" stroke="none"/>
<path d="M636.3 482.4L649.9 482.4M649.9 482.4L652.9 484.6M652.9 484.6L654.4 493.7M654.4 493.7L648.4 499.7M648.4 499.7L639.3 501.3M639.3 501.3L637.8 493.7M637.8 493.7L639.3 484.6M639.3 484.6L636.3 482.4" fill="none"/>
<polygon points="649.9,482.4 660.5,480.1 665.0,487.7 666.5,496.7 662.0,499.7 654.4,493.7 652.9,484.6" fill="#fde1d4" stroke="none"/>
<path d="M649.9 482.4L660.5 480.1M660.5 480.1L665.0 487.7M665.0 487.7L666.5 496.7M666.5 496.7L662.0 499.7M662.0 499.7L654.4 493.7M654.4 493.7L652.9 484.6M652.9 484.6L649.9 482.4" fill="none"/>
<polygon points="639.3,501.3 648.4,499.7 651.4,505.8 648.4,514.9 645.3,520.0 637.8,520.0 634.8,514.9 636.3,505.8" fill="#fcaf92" stroke="none"/>
<path d="M639.3 501.3L648.4 499.7M648.4 499.7L651.4 505.8M651.4 505.8L648.4 514.9M648.4 514.9L645.3 520.0M637.8 520.0L634.8 514.9M634.8 514.9L636.3 505.8M636.3 505.8L639.3 501.3" fill="none"/>
<polygon points="648.4,499.7 654.4,493.7 662.0,499.7 666.5,496.7 669.5,502.8 672.5,511.8 675.6,520.0 645.3,520.0 648.4,514.9 651.4,505.8" fill="#fde1d4" stroke="none"/>
<path d="M648.4 499.7L654.4 493.7M654.4 493.7L662.0 499.7M662.0 499.7L666.5 496.7M666.5 496.7L669.5 502.8M669.5 502.8L672.5 511.8M672.5 511.8L675.6 520.0M645.3 520.0L648.4 514.9M648.4 514.9L651.4 505.8M651.4 505.8L648.4 499.7" fill="none"/>
<polygon points="510.0,479.1 525.1,476.0 532.7,480.6 555.3,479.1 564.4,486.6 573.5,488.1 581.0,485.1 578.0,489.6 582.5,497.2 590.1,500.2 594.6,497.2 603.7,489.6 606.7,495.7 609.7,503.2 612.8,512.3 615.8,522.9 615.8,535.0 618.8,541.0 630.0,533.5 630.0,590.0 510.0,590.0" fill="#fde1d4" stroke="none"/>
<path d="M510.0 479.1L525.1 476.0M525.1 476.0L532.7 480.6M532.7 480.6L555.3 479.1M555.3 479.1L564.4 486.6M564.4 486.6L573.5 488.1M573.5 488.1L581.0 485.1M581.0 485.1L578.0 489.6M578.0 489.6L582.5 497.2M582.5 497.2L590.1 500.2M590.1 500.2L594.6 497.2M594.6 497.2L603.7 489.6M603.7 489.6L606.7 495.7M606.7 495.7L609.7 503.2M609.7 503.2L612.8 512.3M612.8 512.3L615.8 522.9M615.8 522.9L615.8 535.0M615.8 535.0L618.8 541.0M618.8 541.0L630.0 533.5" fill="none"/>
<polygon points="525.1,470.0 541.7,470.0 537.2,476.0 532.7,480.6 528.1,477.6" fill="#fa6b49" stroke="none"/>
<path d="M541.7 470.0L537.2 476.0M537.2 476.0L532.7 480.6M532.7 480.6L528.1 477.6M528.1 477.6L525.1 470.0" fill="none"/>
<polygon points="553.8,470.0 584.1,470.0 585.6,479.1 581.0,485.1 573.5,488.1 564.4,486.6 561.4,480.6 555.3,473.0" fill="#fcaf92" stroke="none"/>
<path d="M584.1 470.0L585.6 479.1M585.6 479.1L581.0 485.1M581.0 485.1L573.5 488.1M573.5 488.1L564.4 486.6M564.4 486.6L561.4 480.6M561.4 480.6L555.3 473.0M555.3 473.0L553.8 470.0" fill="none"/>
<polygon points="584.1,470.0 618.8,470.0 620.3,476.0 615.8,479.1 606.7,480.6 599.2,483.6 590.1,482.1 585.6,479.1" fill="#fa6b49" stroke="none"/>
<path d="M618.8 470.0L620.3 476.0M620.3 476.0L615.8 479.1M615.8 479.1L606.7 480.6M606.7 480.6L599.2 483.6M599.2 483.6L590.1 482.1M590.1 482.1L585.6 479.1M585.6 479.1L584.1 470.0" fill="none"/>
<polygon points="581.0,485.1 585.6,479.1 590.1,482.1 594.6,488.1 594.6,497.2 590.1,500.2 582.5,497.2 578.0,489.6" fill="#fcaf92" stroke="none"/>
<path d="M581.0 485.1L585.6 479.1M585.6 479.1L590.1 482.1M590.1 482.1L594.6 488.1M594.6 488.1L594.6 497.2M594.6 497.2L590.1 500.2M590.1 500.2L582.5 497.2M582.5 497.2L578.0 489.6M578.0 489.6L581.0 485.1" fill="none"/>
<polygon points="615.8,479.1 620.3,476.0 630.0,482.1 630.0,533.5 624.9,536.5 618.8,541.0 615.8,535.0 615.8,522.9 612.8,512.3 609.7,503.2 606.7,495.7 603.7,489.6 606.7,483.6" fill="#fcaf92" stroke="none"/>
<path d="M615.8 479.1L620.3 476.0M620.3 476.0L630.0 482.1M630.0 533.5L624.9 536.5M624.9 536.5L618.8 541.0M618.8 541.0L615.8 535.0M615.8 535.0L615.8 522.9M615.8 522.9L612.8 512.3M612.8 512.3L609.7 503.2M609.7 503.2L606.7 495.7M606.7 495.7L603.7 489.6M603.7 489.6L606.7 483.6M606.7 483.6L615.8 479.1" fill="none"/>
<polygon points="618.8,470.0 630.0,470.0 630.0,482.1 620.3,476.0" fill="#fcaf92" stroke="none"/>
<path d="M630.0 482.1L620.3 476.0M620.3 476.0L618.8 470.0" fill="none"/>
<polygon points="590.1,556.1 597.7,551.6 606.7,548.6 609.7,545.6 615.8,548.6 617.3,554.6 614.3,560.7 606.7,559.2 600.7,562.2 594.6,563.7 591.6,560.7" fill="#fa6b49" stroke="none"/>
<path d="M590.1 556.1L597.7 551.6M597.7 551.6L606.7 548.6M606.7 548.6L609.7 545.6M609.7 545.6L615.8 548.6M615.8 548.6L617.3 554.6M617.3 554.6L614.3 560.7M614.3 560.7L606.7 559.2M606.7 559.2L600.7 562.2M600.7 562.2L594.6 563.7M594.6 563.7L591.6 560.7M591.6 560.7L590.1 556.1" fill="none"/>
<polygon points="584.6,470.0 617.3,470.0 620.6,476.5 615.7,479.8 602.6,481.5 596.0,483.1 587.8,479.8" fill="#fa6b49" stroke="none"/>
<path d="M617.3 470.0L620.6 476.5M620.6 476.5L615.7 479.8M615.7 479.8L602.6 481.5M602.6 481.5L596.0 483.1M596.0 483.1L587.8 479.8M587.8 479.8L584.6 470.0" fill="none"/>
<polygon points="560.0,470.0 584.6,470.0 587.8,479.8 576.4,488.0 566.5,489.6 560.0,486.4" fill="#fcaf92" stroke="none"/>
<path d="M584.6 470.0L587.8 479.8M587.8 479.8L576.4 488.0M576.4 488.0L566.5 489.6M566.5 489.6L560.0 486.4" fill="none"/>
<polygon points="576.4,488.0 587.8,479.8 596.0,483.1 597.7,491.3 592.7,499.5 579.6,497.8" fill="#fcaf92" stroke="none"/>
<path d="M576.4 488.0L587.8 479.8M587.8 479.8L596.0 483.1M596.0 483.1L597.7 491.3M597.7 491.3L592.7 499.5M592.7 499.5L579.6 497.8M579.6 497.8L576.4 488.0" fill="none"/>
<polygon points="605.8,483.1 615.7,479.8 622.2,483.1 632.0,484.7 638.6,486.4 637.0,502.7 632.0,510.9 630.4,519.1 635.3,525.7 632.0,535.5 625.5,538.8 618.9,542.0 614.0,535.5 609.1,524.0 610.8,510.9 607.5,499.5 605.8,489.6" fill="#fcaf92" stroke="none"/>
<path d="M605.8 483.1L615.7 479.8M615.7 479.8L622.2 483.1M622.2 483.1L632.0 484.7M632.0 484.7L638.6 486.4M638.6 486.4L637.0 502.7M637.0 502.7L632.0 510.9M632.0 510.9L630.4 519.1M630.4 519.1L635.3 525.7M635.3 525.7L632.0 535.5M632.0 535.5L625.5 538.8M625.5 538.8L618.9 542.0M618.9 542.0L614.0 535.5M614.0 535.5L609.1 524.0M609.1 524.0L610.8 510.9M610.8 510.9L607.5 499.5M607.5 499.5L605.8 489.6M605.8 489.6L605.8 483.1" fill="none"/>
<polygon points="638.6,486.4 648.4,483.1 655.0,484.7 655.0,496.2 648.4,499.5 640.2,497.8" fill="#fcaf92" stroke="none"/>
<path d="M638.6 486.4L648.4 483.1M648.4 483.1L655.0 484.7M655.0 484.7L655.0 496.2M655.0 496.2L648.4 499.5M648.4 499.5L640.2 497.8M640.2 497.8L638.6 486.4" fill="none"/>
<polygon points="655.0,484.7 661.5,479.8 664.8,489.6 664.8,499.5 658.2,501.1 655.0,496.2" fill="#fde1d4" stroke="none"/>
<path d="M655.0 484.7L661.5 479.8M661.5 479.8L664.8 489.6M664.8 489.6L664.8 499.5M664.8 499.5L658.2 501.1M658.2 501.1L655.0 496.2M655.0 496.2L655.0 484.7" fill="none"/>
<polygon points="648.4,494.6 654.2,494.6 655.0,500.3 650.1,501.9" fill="#d4302d" stroke="none"/>
<path d="M648.4 494.6L654.2 494.6M654.2 494.6L655.0 500.3M655.0 500.3L650.1 501.9M650.1 501.9L648.4 494.6" fill="none"/>
<polygon points="592.7,548.6 604.2,550.2 615.7,548.6 617.3,555.1 609.1,560.1 599.3,561.7 596.0,558.4" fill="#fa6b49" stroke="none"/>
<path d="M592.7 548.6L604.2 550.2M604.2 550.2L615.7 548.6M615.7 548.6L617.3 555.1M617.3 555.1L609.1 560.1M609.1 560.1L599.3 561.7M599.3 561.7L596.0 558.4M596.0 558.4L592.7 548.6" fill="none"/>
<polygon points="578.8,568.2 582.1,568.2 582.9,574.8 580.5,575.6" fill="#d4302d" stroke="none"/>
<path d="M578.8 568.2L582.1 568.2M582.1 568.2L582.9 574.8M582.9 574.8L580.5 575.6M580.5 575.6L578.8 568.2" fill="none"/>
<polygon points="450.0,580.0 522.5,580.0 521.0,595.1 522.5,602.7 516.5,607.2 512.0,614.8 508.9,625.3 507.4,634.4 507.4,642.0 508.9,646.5 510.5,651.0 513.5,657.1 512.0,661.6 515.0,666.1 508.9,669.2 504.4,669.2 501.4,658.6 495.3,655.6 487.8,657.1 483.2,660.1 475.7,667.7 472.7,661.6 465.1,657.1 450.0,658.6" fill="#fcaf92" stroke="none"/>
<path d="M522.5 580.0L521.0 595.1M521.0 595.1L522.5 602.7M522.5 602.7L516.5 607.2M516.5 607.2L512.0 614.8M512.0 614.8L508.9 625.3M508.9 625.3L507.4 634.4M507.4 634.4L507.4 642.0M507.4 642.0L508.9 646.5M508.9 646.5L510.5 651.0M510.5 651.0L513.5 657.1M513.5 657.1L512.0 661.6M512.0 661.6L515.0 666.1M515.0 666.1L508.9 669.2M508.9 669.2L504.4 669.2M504.4 669.2L501.4 658.6M501.4 658.6L495.3 655.6M495.3 655.6L487.8 657.1M487.8 657.1L483.2 660.1M483.2 660.1L475.7 667.7M475.7 667.7L472.7 661.6M472.7 661.6L465.1 657.1M465.1 657.1L450.0 658.6" fill="none"/>
<polygon points="450.0,580.0 457.6,580.0 460.6,589.1 459.1,599.6 454.5,610.2 450.0,611.7" fill="#fde1d4" stroke="none"/>
<path d="M457.6 580.0L460.6 589.1M460.6 589.1L459.1 599.6M459.1 599.6L454.5 610.2M454.5 610.2L450.0 611.7" fill="none"/>
<polygon points="471.2,613.2 487.8,610.2 496.8,611.7 499.9,620.8 495.3,628.4 487.8,631.4 480.2,629.9 472.7,622.3" fill="#fde1d4" stroke="none"/>
<path d="M471.2 613.2L487.8 610.2M487.8 610.2L496.8 611.7M496.8 611.7L499.9 620.8M499.9 620.8L495.3 628.4M495.3 628.4L487.8 631.4M487.8 631.4L480.2 629.9M480.2 629.9L472.7 622.3M472.7 622.3L471.2 613.2" fill="none"/>
<polygon points="522.5,580.0 555.8,580.0 548.2,595.1 540.7,599.6 537.7,607.2 530.1,601.9 522.5,602.7 521.0,595.1" fill="#fde1d4" stroke="none"/>
<path d="M555.8 580.0L548.2 595.1M548.2 595.1L540.7 599.6M540.7 599.6L537.7 607.2M537.7 607.2L530.1 601.9M530.1 601.9L522.5 602.7M522.5 602.7L521.0 595.1M521.0 595.1L522.5 580.0" fill="none"/>
<polygon points="450.0,658.6 465.1,657.1 472.7,661.6 475.7,667.7 469.6,676.7 465.1,672.2 457.6,669.2 450.0,669.2" fill="#fa6b49" stroke="none"/>
<path d="M450.0 658.6L465.1 657.1M465.1 657.1L472.7 661.6M472.7 661.6L475.7 667.7M475.7 667.7L469.6 676.7M469.6 676.7L465.1 672.2M465.1 672.2L457.6 669.2M457.6 669.2L450.0 669.2" fill="none"/>
<polygon points="440.0,280.0 515.6,280.0 517.1,289.1 511.0,293.6 503.5,296.6 492.9,298.1 489.9,301.2 480.8,304.2 476.3,310.2 464.2,314.8 452.1,311.7 440.0,308.7" fill="#a72427" stroke="none"/>
<path d="M515.6 280.0L517.1 289.1M517.1 289.1L511.0 293.6M511.0 293.6L503.5 296.6M503.5 296.6L492.9 298.1M492.9 298.1L489.9 301.2M489.9 301.2L480.8 304.2M480.8 304.2L476.3 310.2M476.3 310.2L464.2 314.8M464.2 314.8L452.1 311.7M452.1 311.7L440.0 308.7" fill="none"/>
<polygon points="492.9,298.1 503.5,296.6 515.6,290.6 524.6,292.1 530.7,298.1 538.2,301.2 545.8,310.2 560.0,308.7 560.0,370.7 551.8,369.2 545.8,361.6 538.2,358.6 527.7,364.6 524.6,370.7 506.5,370.7 497.4,372.2 494.4,367.7 500.5,349.5 503.5,343.5 511.0,332.9 508.0,325.3 505.0,316.3 502.0,308.7 495.9,304.2" fill="#d4302d" stroke="none"/>
<path d="M492.9 298.1L503.5 296.6M503.5 296.6L515.6 290.6M515.6 290.6L524.6 292.1M524.6 292.1L530.7 298.1M530.7 298.1L538.2 301.2M538.2 301.2L545.8 310.2M545.8 310.2L560.0 308.7M560.0 370.7L551.8 369.2M551.8 369.2L545.8 361.6M545.8 361.6L538.2 358.6M538.2 358.6L527.7 364.6M527.7 364.6L524.6 370.7M524.6 370.7L506.5 370.7M506.5 370.7L497.4 372.2M497.4 372.2L494.4 367.7M494.4 367.7L500.5 349.5M500.5 349.5L503.5 343.5M503.5 343.5L511.0 332.9M511.0 332.9L508.0 325.3M508.0 325.3L505.0 316.3M505.0 316.3L502.0 308.7M502.0 308.7L495.9 304.2M495.9 304.2L492.9 298.1" fill="none"/>
<polygon points="479.3,304.9 489.9,301.2 497.4,305.7 502.0,308.7 497.4,314.8 492.9,323.8 491.4,334.4 489.9,345.0 488.4,355.6 486.8,361.6 476.3,363.1 473.2,358.6 479.3,349.5 480.8,343.5 476.3,334.4 476.3,325.3 477.8,314.8" fill="#fa6b49" stroke="none"/>
<path d="M479.3 304.9L489.9 301.2M489.9 301.2L497.4 305.7M497.4 305.7L502.0 308.7M502.0 308.7L497.4 314.8M497.4 314.8L492.9 323.8M492.9 323.8L491.4 334.4M491.4 334.4L489.9 345.0M489.9 345.0L488.4 355.6M488.4 355.6L486.8 361.6M486.8 361.6L476.3 363.1M476.3 363.1L473.2 358.6M473.2 358.6L479.3 349.5M479.3 349.5L480.8 343.5M480.8 343.5L476.3 334.4M476.3 334.4L476.3 325.3M476.3 325.3L477.8 314.8M477.8 314.8L479.3 304.9" fill="none"/>
<polygon points="497.4,305.7 502.0,308.7 505.0,316.3 508.0,325.3 511.0,332.9 503.5,343.5 500.5,349.5 495.9,360.1 494.4,367.7 492.9,372.2 488.4,369.2 488.4,358.6 489.9,345.0 491.4,334.4 492.9,323.8 497.4,314.8" fill="#fa6b49" stroke="none"/>
<path d="M497.4 305.7L502.0 308.7M502.0 308.7L505.0 316.3M505.0 316.3L508.0 325.3M508.0 325.3L511.0 332.9M511.0 332.9L503.5 343.5M503.5 343.5L500.5 349.5M500.5 349.5L495.9 360.1M495.9 360.1L494.4 367.7M494.4 367.7L492.9 372.2M492.9 372.2L488.4 369.2M488.4 369.2L488.4 358.6M488.4 358.6L489.9 345.0M489.9 345.0L491.4 334.4M491.4 334.4L492.9 323.8M492.9 323.8L497.4 314.8M497.4 314.8L497.4 305.7" fill="none"/>
<polygon points="440.0,308.7 452.1,311.7 464.2,314.8 476.3,310.2 477.8,314.8 476.3,325.3 476.3,334.4 480.8,343.5 479.3,349.5 473.2,358.6 464.2,361.6 462.7,349.5 455.1,340.5 447.6,329.9 444.5,320.8 440.0,320.8" fill="#d4302d" stroke="none"/>
<path d="M440.0 308.7L452.1 311.7M452.1 311.7L464.2 314.8M464.2 314.8L476.3 310.2M476.3 310.2L477.8 314.8M477.8 314.8L476.3 325.3M476.3 325.3L476.3 334.4M476.3 334.4L480.8 343.5M480.8 343.5L479.3 349.5M479.3 349.5L473.2 358.6M473.2 358.6L464.2 361.6M464.2 361.6L462.7 349.5M462.7 349.5L455.1 340.5M455.1 340.5L447.6 329.9M447.6 329.9L444.5 320.8M444.5 320.8L440.0 320.8" fill="none"/>
<polygon points="444.5,322.3 447.6,329.9 455.1,340.5 462.7,349.5 464.2,361.6 456.6,366.1 449.1,361.6 444.5,351.0 446.0,340.5 440.0,334.4 440.0,322.3" fill="#a72427" stroke="none"/>
<path d="M444.5 322.3L447.6 329.9M447.6 329.9L455.1 340.5M455.1 340.5L462.7 349.5M462.7 349.5L464.2 361.6M464.2 361.6L456.6 366.1M456.6 366.1L449.1 361.6M449.1 361.6L444.5 351.0M444.5 351.0L446.0 340.5M446.0 340.5L440.0 334.4M440.0 322.3L444.5 322.3" fill="none"/>
<polygon points="527.7,364.6 538.2,358.6 545.8,361.6 551.8,369.2 548.8,382.8 542.8,387.3 535.2,384.3 529.2,376.7" fill="#d4302d" stroke="none"/>
<path d="M527.7 364.6L538.2 358.6M538.2 358.6L545.8 361.6M545.8 361.6L551.8 369.2M551.8 369.2L548.8 382.8M548.8 382.8L542.8 387.3M542.8 387.3L535.2 384.3M535.2 384.3L529.2 376.7M529.2 376.7L527.7 364.6" fill="none"/>
<polygon points="440.0,364.6 449.1,363.1 456.6,366.1 459.6,373.7 462.7,382.8 461.2,391.8 455.1,400.0 440.0,400.0" fill="#fa6b49" stroke="none"/>
<path d="M440.0 364.6L449.1 363.1M449.1 363.1L456.6 366.1M456.6 366.1L459.6 373.7M459.6 373.7L462.7 382.8M462.7 382.8L461.2 391.8M461.2 391.8L455.1 400.0" fill="none"/>
<polygon points="456.6,366.1 464.2,361.6 473.2,358.6 476.3,363.1 486.8,361.6 488.4,369.2 492.9,372.2 494.4,379.7 495.9,388.8 494.4,400.0 455.1,400.0 461.2,391.8 462.7,382.8 459.6,373.7" fill="#d4302d" stroke="none"/>
<path d="M456.6 366.1L464.2 361.6M464.2 361.6L473.2 358.6M473.2 358.6L476.3 363.1M476.3 363.1L486.8 361.6M486.8 361.6L488.4 369.2M488.4 369.2L492.9 372.2M492.9 372.2L494.4 379.7M494.4 379.7L495.9 388.8M495.9 388.8L494.4 400.0M455.1 400.0L461.2 391.8M461.2 391.8L462.7 382.8M462.7 382.8L459.6 373.7M459.6 373.7L456.6 366.1" fill="none"/>
<polygon points="492.9,372.2 497.4,372.2 506.5,370.7 524.6,370.7 527.7,376.7 524.6,385.8 530.7,394.9 533.7,400.0 494.4,400.0 495.9,388.8 494.4,379.7" fill="#fa6b49" stroke="none"/>
<path d="M492.9 372.2L497.4 372.2M497.4 372.2L506.5 370.7M506.5 370.7L524.6 370.7M524.6 370.7L527.7 376.7M527.7 376.7L524.6 385.8M524.6 385.8L530.7 394.9M530.7 394.9L533.7 400.0M494.4 400.0L495.9 388.8M495.9 388.8L494.4 379.7M494.4 379.7L492.9 372.2" fill="none"/>
<polygon points="551.8,369.2 560.0,370.7 560.0,400.0 545.8,400.0 544.3,388.8 548.8,382.8" fill="#fcaf92" stroke="none"/>
<path d="M551.8 369.2L560.0 370.7M545.8 400.0L544.3 388.8M544.3 388.8L548.8 382.8M548.8 382.8L551.8 369.2" fill="none"/>
<polygon points="535.2,384.3 542.8,387.3 548.8,382.8 545.8,400.0 533.7,400.0" fill="#fa6b49" stroke="none"/>
<path d="M535.2 384.3L542.8 387.3M542.8 387.3L548.8 382.8M548.8 382.8L545.8 400.0M533.7 400.0L535.2 384.3" fill="none"/>
<polygon points="416.0,298.0 445.0,298.0 445.0,309.0 440.0,310.2 433.7,307.4 426.9,309.0 418.6,309.0" fill="#a72427" stroke="none"/>
<polyline points="338.4,245.5 342.1,250.0 344.4,257.5 347.4,266.6 350.5,275.7 355.0,279.5" fill="none"/>
<polyline points="297.8,309.6 304.6,305.1 322.8,309.6 337.9,305.1 351.5,303.6" fill="none"/>
<polyline points="316.0,342.9 330.3,333.8 337.9,329.3 340.9,320.2 351.5,312.7" fill="none"/>
<polyline points="328.8,356.5 336.4,345.9 345.5,343.6 356.0,342.9 363.6,345.9" fill="none"/>
<polyline points="383.2,332.3 384.7,320.2 386.3,306.6 381.7,299.1" fill="none"/>
<polyline points="311.8,493.9 323.5,496.7 344.3,500.2 355.4,500.9 378.9,493.2 405.3,487.0" fill="none"/>
<polyline points="350.6,478.0 354.0,500.2" fill="none"/>
<polyline points="355.4,504.3 359.6,516.8" fill="none"/>
<polyline points="318.0,521.6 344.3,523.0 359.6,516.8 381.7,513.3 406.6,504.3 422.0,502.9" fill="none"/>
<polyline points="344.3,523.0 345.7,535.5" fill="none"/>
<polyline points="381.7,513.3 383.1,533.4" fill="none"/>
<polyline points="287.5,535.5 323.5,538.2 331.9,533.4 351.2,537.6 354.0,555.6" fill="none"/>
<polyline points="533.7,314.8 545.8,310.2" fill="none"/>
<polyline points="440.0,308.7 452.1,311.7 464.2,314.8 476.3,310.2" fill="none"/>
<polyline points="531.7,323.5 537.8,328.0 539.3,340.1 537.8,350.7 539.3,359.7" fill="none"/>
<polyline points="531.7,317.4 536.3,312.9 545.3,311.4" fill="none"/>
<polyline points="563.5,353.7 572.5,350.7 584.6,350.7 593.7,356.7 602.8,350.7 604.3,338.6 602.8,322.0" fill="none"/>
<polyline points="640.2,362.4 644.8,375.2 655.3,382.8 670.5,388.8 685.6,387.3 700.7,385.8 712.8,384.3" fill="none"/>
<polyline points="690.1,370.7 694.6,376.7 700.7,385.8" fill="none"/>
<polyline points="610.0,343.5 619.1,340.5 621.3,343.5" fill="none"/>
</g>
<polygon points="380.2,192.2 387.8,196.0 393.5,198.8 395.4,206.3 402.9,212.0 410.5,218.6 412.4,229.0 418.0,234.7 427.5,236.6 430.3,246.0 433.6,257.3 438.9,264.4 451.3,266.2 460.0,262.6 472.4,267.9 484.7,272.5 497.1,280.3 507.7,282.0 516.5,290.1 528.8,294.4 539.4,299.6 550.0,308.5 562.0,310.2 574.3,311.9 586.7,309.1 590.2,320.7 604.3,322.5 614.9,323.2 620.1,326.0 621.9,317.2 643.1,311.9 646.6,307.7 660.7,306.6 674.8,303.1 678.3,299.6 692.4,299.6 704.7,294.3 706.5,283.7 717.1,282.7 729.4,283.7 727.6,294.3 725.9,301.3 727.6,310.2 731.2,319.0 738.2,326.0 747.0,336.6 745.3,350.7 740.0,361.3 734.7,368.3 727.6,375.4 729.4,389.5 722.4,400.0 713.5,407.1 705.8,415.1 696.7,416.6 689.2,422.7 687.7,430.2 689.2,439.3 686.1,448.4 681.6,451.4 675.6,452.9 669.5,455.9 663.5,462.0 660.5,466.5 658.9,472.5 660.5,480.1 663.5,484.6 666.5,493.7 669.5,502.8 672.5,511.8 675.6,519.4 676.5,517.3 670.5,519.3 667.4,522.3 664.4,525.3 658.4,530.4 656.3,536.4 658.4,539.4 654.3,537.4 648.3,534.4 643.2,536.4 639.2,540.5 634.2,542.5 630.2,546.5 625.1,552.5 620.1,556.6 617.3,556.8 609.1,560.1 599.3,563.3 596.8,568.2 595.2,574.8 599.3,581.3 594.4,584.6 591.9,587.9 589.5,584.6 587.0,574.8 584.6,565.8 580.0,569.9 581.0,577.3 577.2,582.7 569.8,578.4 568.2,578.5 558.4,580.1 551.9,585.0 549.4,590.8 547.0,598.9 544.5,602.2 540.4,605.5 537.1,608.0 535.5,603.0 530.6,602.2 522.4,601.4 517.5,604.7 512.6,612.0 510.1,616.1 511.2,616.4 508.7,624.6 507.1,634.4 507.9,640.9 506.3,645.8 508.7,654.0 512.8,658.9 514.4,664.7 511.2,667.1 507.9,665.5 505.4,669.6 504.6,665.5 503.0,661.4 498.1,657.3 491.5,655.7 486.6,657.3 483.3,661.4 480.1,663.0 475.1,665.5 468.6,672.0 465.3,670.4 462.0,668.8 455.5,669.6 447.3,670.4 439.1,672.9 433.4,677.0 430.1,681.9 429.3,685.1 426.8,688.4 429.3,691.7 427.7,695.0 431.8,696.6 434.2,699.9 431.8,704.8 429.3,709.7 416.2,709.7 414.6,704.8 408.0,703.2 403.1,698.2 404.7,691.7 399.8,685.1 399.8,678.6 402.3,672.0 405.6,665.5 412.9,662.2 411.3,654.0 412.1,645.8 408.0,639.3 399.8,636.0 398.6,639.4 386.0,636.3 376.5,634.7 363.9,630.0 356.5,620.0 353.5,616.4 348.9,611.8 344.4,605.8 344.4,596.7 346.7,590.7 350.5,588.4 347.4,584.6 344.4,572.5 341.4,566.5 338.4,562.0 321.7,562.7 318.7,558.9 308.1,555.9 296.8,558.9 294.5,551.4 290.0,543.8 288.0,538.0 286.7,534.5 290.0,531.7 297.6,528.7 305.1,525.7 314.2,522.7 318.0,518.9 315.7,515.1 308.1,512.1 299.1,509.8 300.6,500.0 300.0,497.4 311.8,493.9 303.0,484.0 299.1,476.6 312.7,479.6 326.3,482.7 338.4,481.1 348.9,476.6 353.5,461.5 365.6,455.5 374.6,457.0 380.7,461.5 388.2,467.5 395.8,470.6 400.0,468.2 413.6,466.7 416.6,463.7 412.1,454.6 406.0,448.6 400.0,447.1 395.8,446.4 388.2,438.8 383.7,434.3 373.9,432.8 373.1,420.7 368.6,411.6 362.5,409.4 355.0,405.6 350.5,401.0 347.4,395.0 345.5,395.8 337.9,392.8 330.3,386.7 325.8,380.7 326.6,371.6 328.8,361.8 324.3,353.5 319.8,347.4 313.0,339.9 307.7,332.3 305.4,323.2 303.1,317.2 297.8,309.6 303.9,303.6 303.1,297.6 304.6,290.0 306.9,290.0 309.4,278.2 311.3,268.1 312.6,260.5 318.9,255.5 325.8,250.5 327.1,243.5 332.7,243.5 339.0,245.4 337.8,236.6 339.7,227.8 340.3,222.7 344.1,215.2 346.6,211.4 352.9,207.6 361.7,202.0 369.3,201.3" fill="none" stroke="#4a4a4a" stroke-width="1.1" stroke-linejoin="round"/>
<g fill="#98dc98" fill-opacity="0.9" stroke="#88c088" stroke-width="0.4">
<circle cx="361.0" cy="235.2" r="2.4"/>
<circle cx="398.4" cy="257.5" r="9.1"/>
<circle cx="329.3" cy="281.3" r="2.6"/>
<circle cx="465.3" cy="290.8" r="8.3"/>
<circle cx="323.8" cy="320.2" r="2.6"/>
<circle cx="340.2" cy="335.6" r="2.4"/>
<circle cx="349.4" cy="356.9" r="2.4"/>
<circle cx="362.1" cy="309.6" r="2.1"/>
<circle cx="381.7" cy="353.5" r="5.0"/>
<circle cx="399.9" cy="327.8" r="6.8"/>
<circle cx="350.3" cy="384.8" r="2.3"/>
<circle cx="361.3" cy="405.9" r="2.1"/>
<circle cx="382.0" cy="406.1" r="2.1"/>
<circle cx="422.9" cy="339.7" r="4.5"/>
<circle cx="447.3" cy="338.7" r="3.3"/>
<circle cx="463.7" cy="331.4" r="2.6"/>
<circle cx="476.8" cy="380.5" r="2.3"/>
<circle cx="444.8" cy="382.5" r="2.1"/>
<circle cx="520.1" cy="332.2" r="5.6"/>
<circle cx="566.8" cy="336.3" r="5.7"/>
<circle cx="599.0" cy="361.3" r="4.2"/>
<circle cx="541.1" cy="373.3" r="2.7"/>
<circle cx="506.0" cy="378.6" r="2.3"/>
<circle cx="670.0" cy="331.8" r="5.0"/>
<circle cx="719.1" cy="345.7" r="4.2"/>
<circle cx="674.7" cy="377.9" r="3.0"/>
<circle cx="672.3" cy="394.4" r="3.3"/>
<circle cx="444.9" cy="382.4" r="2.6"/>
<circle cx="476.8" cy="380.6" r="2.6"/>
<circle cx="506.1" cy="379.4" r="2.3"/>
<circle cx="516.1" cy="396.6" r="3.0"/>
<circle cx="452.6" cy="401.7" r="2.0"/>
<circle cx="427.7" cy="407.8" r="2.6"/>
<circle cx="411.3" cy="412.6" r="2.0"/>
<circle cx="401.5" cy="401.4" r="1.8"/>
<circle cx="457.9" cy="417.6" r="2.1"/>
<circle cx="474.8" cy="430.1" r="2.9"/>
<circle cx="491.0" cy="408.2" r="2.3"/>
<circle cx="494.0" cy="431.4" r="2.3"/>
<circle cx="509.6" cy="434.2" r="2.0"/>
<circle cx="400.0" cy="433.5" r="1.8"/>
<circle cx="446.4" cy="436.2" r="2.6"/>
<circle cx="415.7" cy="448.6" r="2.6"/>
<circle cx="447.6" cy="450.6" r="2.7"/>
<circle cx="431.0" cy="458.3" r="2.1"/>
<circle cx="443.5" cy="469.0" r="2.3"/>
<circle cx="473.1" cy="470.0" r="2.4"/>
<circle cx="488.9" cy="464.8" r="2.9"/>
<circle cx="502.2" cy="472.8" r="2.3"/>
<circle cx="515.2" cy="468.5" r="2.3"/>
<circle cx="404.2" cy="475.5" r="2.3"/>
<circle cx="427.7" cy="477.6" r="2.7"/>
<circle cx="453.2" cy="481.1" r="2.6"/>
<circle cx="513.6" cy="488.6" r="2.1"/>
<circle cx="502.8" cy="450.1" r="1.8"/>
<circle cx="541.0" cy="373.3" r="3.0"/>
<circle cx="564.9" cy="380.6" r="3.3"/>
<circle cx="516.0" cy="396.4" r="2.7"/>
<circle cx="600.4" cy="397.5" r="3.3"/>
<circle cx="620.0" cy="421.4" r="3.2"/>
<circle cx="572.0" cy="413.8" r="3.3"/>
<circle cx="526.9" cy="421.1" r="2.6"/>
<circle cx="545.1" cy="440.7" r="3.0"/>
<circle cx="594.9" cy="453.9" r="3.3"/>
<circle cx="563.8" cy="459.9" r="1.8"/>
<circle cx="573.2" cy="475.5" r="2.4"/>
<circle cx="515.0" cy="468.2" r="2.1"/>
<circle cx="522.4" cy="480.8" r="2.1"/>
<circle cx="547.8" cy="486.4" r="2.7"/>
<circle cx="607.5" cy="482.1" r="1.8"/>
<circle cx="361.5" cy="405.6" r="2.3"/>
<circle cx="382.0" cy="405.9" r="2.3"/>
<circle cx="401.5" cy="401.0" r="2.0"/>
<circle cx="398.8" cy="433.5" r="2.7"/>
<circle cx="360.4" cy="468.6" r="2.0"/>
<circle cx="382.5" cy="469.2" r="2.0"/>
<circle cx="381.1" cy="482.2" r="1.8"/>
<circle cx="404.3" cy="475.6" r="2.1"/>
<circle cx="331.6" cy="488.4" r="2.7"/>
<circle cx="362.7" cy="489.5" r="2.3"/>
<circle cx="381.6" cy="502.9" r="2.4"/>
<circle cx="330.0" cy="508.6" r="3.0"/>
<circle cx="330.0" cy="508.8" r="3.0"/>
<circle cx="381.7" cy="502.7" r="2.1"/>
<circle cx="317.7" cy="531.3" r="3.0"/>
<circle cx="368.1" cy="539.0" r="3.8"/>
<circle cx="339.4" cy="545.0" r="3.0"/>
<circle cx="310.9" cy="548.4" r="2.9"/>
<circle cx="352.3" cy="568.0" r="2.1"/>
<circle cx="404.3" cy="560.8" r="2.6"/>
<circle cx="382.5" cy="585.7" r="3.2"/>
<circle cx="362.7" cy="608.8" r="3.3"/>
<circle cx="386.7" cy="611.5" r="2.7"/>
<circle cx="395.8" cy="607.0" r="3.0"/>
<circle cx="362.7" cy="608.9" r="3.3"/>
<circle cx="386.5" cy="611.5" r="2.7"/>
<circle cx="395.9" cy="606.9" r="3.0"/>
<circle cx="419.3" cy="608.1" r="8.3"/>
<circle cx="439.7" cy="602.1" r="3.5"/>
<circle cx="452.6" cy="605.4" r="3.0"/>
<circle cx="452.6" cy="592.7" r="2.7"/>
<circle cx="385.3" cy="628.7" r="3.0"/>
<circle cx="398.2" cy="624.5" r="3.0"/>
<circle cx="411.9" cy="634.7" r="2.7"/>
<circle cx="434.8" cy="629.6" r="3.8"/>
<circle cx="417.1" cy="649.2" r="2.7"/>
<circle cx="429.2" cy="649.7" r="2.7"/>
<circle cx="451.5" cy="641.7" r="6.8"/>
<circle cx="452.6" cy="655.3" r="8.3"/>
<circle cx="417.1" cy="678.4" r="14.4"/>
<circle cx="423.1" cy="701.5" r="7.6"/>
<circle cx="414.8" cy="491.8" r="2.3"/>
<circle cx="439.0" cy="492.4" r="2.3"/>
<circle cx="463.0" cy="496.6" r="2.3"/>
<circle cx="484.0" cy="494.5" r="2.3"/>
<circle cx="498.8" cy="503.7" r="2.7"/>
<circle cx="485.4" cy="517.0" r="2.3"/>
<circle cx="513.6" cy="489.4" r="2.3"/>
<circle cx="514.1" cy="509.2" r="2.3"/>
<circle cx="414.8" cy="518.7" r="3.8"/>
<circle cx="460.5" cy="525.8" r="2.6"/>
<circle cx="414.5" cy="540.9" r="2.6"/>
<circle cx="454.0" cy="549.4" r="2.1"/>
<circle cx="404.2" cy="560.7" r="2.6"/>
<circle cx="431.1" cy="567.4" r="2.1"/>
<circle cx="464.2" cy="569.8" r="4.5"/>
<circle cx="490.7" cy="555.6" r="6.3"/>
<circle cx="507.3" cy="542.3" r="3.0"/>
<circle cx="518.6" cy="538.2" r="1.8"/>
<circle cx="517.1" cy="564.6" r="2.6"/>
<circle cx="431.0" cy="582.8" r="2.6"/>
<circle cx="452.9" cy="592.6" r="3.0"/>
<circle cx="471.6" cy="594.6" r="4.1"/>
<circle cx="490.7" cy="586.2" r="4.8"/>
<circle cx="500.6" cy="581.0" r="4.1"/>
<circle cx="514.9" cy="593.3" r="10.6"/>
<circle cx="453.2" cy="481.2" r="2.3"/>
<circle cx="620.1" cy="421.2" r="3.0"/>
<circle cx="659.7" cy="426.9" r="4.5"/>
<circle cx="637.2" cy="461.4" r="4.1"/>
<circle cx="608.0" cy="482.1" r="2.3"/>
<circle cx="603.3" cy="492.8" r="2.3"/>
<circle cx="624.2" cy="508.1" r="4.1"/>
<circle cx="646.4" cy="489.6" r="2.3"/>
<circle cx="639.0" cy="517.9" r="2.6"/>
<circle cx="522.5" cy="480.9" r="2.3"/>
<circle cx="513.3" cy="489.3" r="2.3"/>
<circle cx="548.1" cy="486.3" r="3.0"/>
<circle cx="573.2" cy="475.6" r="2.6"/>
<circle cx="587.8" cy="491.9" r="3.0"/>
<circle cx="603.2" cy="493.0" r="2.7"/>
<circle cx="607.9" cy="482.1" r="2.1"/>
<circle cx="533.0" cy="497.5" r="2.0"/>
<circle cx="567.9" cy="497.2" r="2.3"/>
<circle cx="514.5" cy="509.6" r="2.3"/>
<circle cx="531.5" cy="507.2" r="2.3"/>
<circle cx="545.1" cy="508.5" r="2.1"/>
<circle cx="585.9" cy="509.0" r="2.6"/>
<circle cx="624.1" cy="508.2" r="4.1"/>
<circle cx="573.5" cy="515.6" r="2.1"/>
<circle cx="602.2" cy="516.8" r="2.1"/>
<circle cx="544.5" cy="520.6" r="2.3"/>
<circle cx="564.1" cy="523.2" r="2.6"/>
<circle cx="525.6" cy="526.4" r="3.0"/>
<circle cx="552.3" cy="530.8" r="2.1"/>
<circle cx="581.8" cy="531.5" r="2.1"/>
<circle cx="607.9" cy="528.9" r="2.3"/>
<circle cx="519.1" cy="538.8" r="2.7"/>
<circle cx="543.2" cy="540.3" r="2.6"/>
<circle cx="592.8" cy="538.8" r="2.1"/>
<circle cx="572.3" cy="547.4" r="2.1"/>
<circle cx="594.6" cy="547.4" r="2.6"/>
<circle cx="516.8" cy="564.8" r="2.7"/>
<circle cx="604.5" cy="554.9" r="4.5"/>
<circle cx="528.1" cy="584.9" r="6.8"/>
<circle cx="514.5" cy="587.1" r="6.0"/>
<circle cx="573.1" cy="475.7" r="2.8"/>
<circle cx="587.8" cy="491.6" r="2.8"/>
<circle cx="603.4" cy="492.9" r="2.8"/>
<circle cx="567.9" cy="497.0" r="2.1"/>
<circle cx="607.8" cy="481.8" r="2.0"/>
<circle cx="623.9" cy="508.5" r="4.1"/>
<circle cx="646.3" cy="489.6" r="2.1"/>
<circle cx="661.9" cy="497.0" r="2.1"/>
<circle cx="602.2" cy="517.0" r="2.1"/>
<circle cx="607.8" cy="528.9" r="2.1"/>
<circle cx="582.1" cy="531.9" r="2.1"/>
<circle cx="593.1" cy="538.8" r="2.1"/>
<circle cx="586.2" cy="509.0" r="2.5"/>
<circle cx="573.1" cy="515.8" r="2.5"/>
<circle cx="564.1" cy="523.2" r="2.5"/>
<circle cx="638.6" cy="519.1" r="2.5"/>
<circle cx="648.4" cy="514.2" r="9.8"/>
<circle cx="663.2" cy="506.0" r="7.4"/>
<circle cx="665.6" cy="517.5" r="11.5"/>
<circle cx="673.0" cy="519.1" r="4.9"/>
<circle cx="656.6" cy="524.0" r="6.5"/>
<circle cx="646.8" cy="533.9" r="6.5"/>
<circle cx="632.0" cy="538.8" r="7.4"/>
<circle cx="627.1" cy="547.0" r="9.0"/>
<circle cx="619.8" cy="544.5" r="4.6"/>
<circle cx="604.2" cy="554.3" r="4.9"/>
<circle cx="621.4" cy="556.0" r="4.1"/>
<circle cx="655.0" cy="537.1" r="4.9"/>
<circle cx="587.8" cy="565.8" r="6.5"/>
<circle cx="594.4" cy="568.2" r="5.7"/>
<circle cx="591.9" cy="581.3" r="4.9"/>
<circle cx="453.0" cy="592.4" r="3.0"/>
<circle cx="471.6" cy="594.7" r="4.1"/>
<circle cx="490.8" cy="586.3" r="4.5"/>
<circle cx="500.6" cy="581.8" r="3.8"/>
<circle cx="515.0" cy="593.6" r="10.3"/>
<circle cx="527.8" cy="584.5" r="6.8"/>
<circle cx="496.1" cy="608.0" r="8.6"/>
<circle cx="453.0" cy="605.7" r="3.0"/>
<circle cx="462.8" cy="622.6" r="5.3"/>
<circle cx="486.3" cy="620.8" r="5.0"/>
<circle cx="453.0" cy="641.2" r="6.0"/>
<circle cx="455.3" cy="654.1" r="7.6"/>
<circle cx="478.0" cy="652.2" r="10.9"/>
<circle cx="463.7" cy="331.4" r="2.6"/>
<circle cx="486.2" cy="328.8" r="2.7"/>
<circle cx="498.5" cy="339.4" r="2.3"/>
</g>
<polygon fill="#a9c48d" stroke="#4a4a4a" stroke-width="1" stroke-linejoin="round" points="648.3,500.2 654.3,499.1 656.3,506.2 660.4,512.2 668.4,511.2 670.5,509.2 676.5,517.3 670.5,519.3 667.4,522.3 664.4,525.3 658.4,530.4 656.3,536.4 658.4,539.4 654.3,537.4 648.3,534.4 643.2,536.4 639.2,540.5 634.2,538.4 634.2,526.3 643.2,524.3 652.3,523.3 653.3,515.3 651.3,508.2 650.3,502.2"/>
<polygon fill="#fa6b49" points="648.5,495.5 653.5,495 654.5,499.5 649,500.5"/>
<g fill="none" stroke="#4d6b1f" stroke-width="1.3">
<circle cx="550.3" cy="568.8" r="28.2"/>
<circle cx="498.1" cy="644.2" r="22.4"/>
<circle cx="454.7" cy="668" r="28.2"/>
</g>
<g fill="#fa6b49" stroke="#555" stroke-width="0.5">
<polygon points="468,682.5 474.6,681 480,683 485.6,685.5 482,686.5 475,686 469.5,684.3"/>
<polygon points="471,688.5 476,687.8 480,688.8 475,689.5"/>
</g>
<polyline fill="none" stroke="#4a4a4a" stroke-width="1.2" stroke-linejoin="round" points="348.9,589.2 353.5,587.7 359.5,580.1 362.5,572.5 374.6,568 388.2,563.5 400,575.2 415.1,573.7 416.6,582.8 428.7,579.7 436.3,576.7 442.3,572.2 445.3,562.4 457.4,558.6 469.5,549.5 478.6,540.4 481.6,534.4 493.7,529.9 502.8,523.8 502.8,514.8 513.3,508 505.8,507.2 505.8,495.1 498.2,486 510,480.3 525.1,472.8 529.6,478.8 537.2,474.3 547.8,468.2 555.3,471.3 561.4,475.8 562.9,484.9 570.5,486.4 578,484.9 585.6,480.3 594.6,481.8 600.7,482.6 619.6,480.1 618.1,472.5 613.6,460.5 615.1,448.4 619.6,440.8 636.3,432.5 640.8,442.3 654.4,443.1 662,460.5"/>
<polyline fill="none" stroke="#4a4a4a" stroke-width="1.2" stroke-linejoin="round" points="412.1,663.2 416.6,660.2 420.4,658.3 426.4,657.9 431,656.1 435.5,656.4 437.8,658.7 437,661.7 440,662.5 445.3,660.2 451.4,659.5 454.4,658.3 457.4,659.5 461.9,659.1 465.7,657.9 467.2,656.4 466.5,651.9 468,648.1 471.8,645.6 475.5,640.6 480.6,633 486.9,631.8 493.2,629.2 498.2,625.5 499.5,621.7 498.2,615.4 493.2,611 481.8,612.9 473,611.6 480.6,610.4 486.9,597.8 490.6,594 499.5,595.3 505.8,592.7 507,585.2 509.5,578.3 510.8,575.1 518.3,576.4 525.9,565 527.2,560 526.2,552.1 532.6,540.4 540,544.6 543.2,548.9 549.6,545.7 556,547.8 564.5,548.9 570.9,546.8 575.2,539.3 581.6,544.6 580.5,551 577.3,553.1 585,553 592.7,549.4 604.2,550.2 609.1,545.3 615.7,548.6 617.3,555.1 622.2,551.9 628.8,555.1 634.5,547 635.3,532.2 640.2,524 648.4,520.8 651.7,509.3 651.7,499.5 658.2,501.1 664.8,509.3 671.3,519.1"/>
<!-- north arrow -->
<polygon points="804.7,187.6 794.1,214.3 804.7,204.3" fill="#dcdcde"/>
<polygon points="804.7,187.6 815.8,214.3 804.7,204.3" fill="#fff"/>
<polygon points="804.7,187.6 794.1,214.3 804.7,204.3 815.8,214.3" fill="none" stroke="#555" stroke-width="0.9" stroke-linejoin="miter"/>
<!-- labels -->
<g font-family="Liberation Sans, sans-serif" fill="#4f4f4f">
<text x="671" y="236" font-size="12" text-anchor="middle" transform="translate(671 0) scale(0.88 1) translate(-671 0)">ITALIE</text>
<text x="323" y="428.5" font-size="10" text-anchor="middle" transform="translate(323 0) scale(0.81 1) translate(-323 0)">Alpes-de-</text>
<text x="323" y="439" font-size="10" text-anchor="middle" transform="translate(323 0) scale(0.81 1) translate(-323 0)">Haute-Provence</text>
<text x="321.8" y="651" font-size="10" text-anchor="middle" transform="translate(321.8 0) scale(0.85 1) translate(-321.8 0)">Var</text>
<text font-size="12" letter-spacing="3.8" fill="#555" transform="translate(500 453) rotate(-29.1)">HAUT-PAYS</text>
<text font-size="12" letter-spacing="4.0" fill="#555" transform="translate(500.5 558.5) rotate(-29.6)">MOYEN-PAYS</text>
<text font-size="12" letter-spacing="4.1" fill="#555" transform="translate(536 637) rotate(-29)">LITTORAL</text>
<text x="566.5" y="674" font-size="8" letter-spacing="2.6" fill="#3a7dc0">Mer Méditerranée</text>
<text x="669.7" y="536.5" font-size="7.9" font-style="italic">Menton</text>
<text x="646.5" y="565.5" font-size="8.5" transform="translate(646.5 0) scale(0.88 1) translate(-646.5 0)">MONACO</text>
<text x="542" y="572" font-size="8.6" font-style="italic">Nice</text>
<text x="478.9" y="645.7" font-size="8.6" font-style="italic">Antibes</text>
<text x="437.5" y="683.9" font-size="8.7" font-style="italic">Cannes</text>
<text x="290.5" y="706" font-size="9">0</text>
<text x="342.5" y="706" font-size="9" transform="translate(342.5 0) scale(0.9 1) translate(-342.5 0)">10 km</text>
<text font-size="7.6" fill="#555" transform="translate(839.8 440) rotate(-90) scale(0.845 1)">Source : INSEE RP 2021 - Réalisation : AUA/Observatoires/AD - 11 Juin 2025.</text>
</g>
<line x1="630.4" y1="552.7" x2="645.1" y2="563.3" stroke="#555" stroke-width="0.8"/>
<g stroke="#444" stroke-width="1.4" fill="none"><line x1="292.2" y1="717.1" x2="347.6" y2="717.1"/><line x1="292.2" y1="714.3" x2="292.2" y2="719.9"/><line x1="347.6" y1="714.3" x2="347.6" y2="719.9"/></g>
<!-- legend -->
<rect x="704" y="444" width="127" height="262" fill="#efefef" fill-opacity="0.9"/>
<rect x="709.5" y="452" width="20.5" height="11" fill="#f3f3f3" stroke="#444" stroke-width="1.3"/>
<rect x="709.5" y="470" width="20.5" height="10.7" fill="#dcdce8" stroke="#666" stroke-width="1"/>
<rect x="710" y="515.7" width="19.6" height="9.8" fill="#fde1d4"/>
<rect x="710" y="533.3" width="19.6" height="10.3" fill="#fcaf92"/>
<rect x="710" y="551.4" width="19.6" height="10.2" fill="#fa6b49"/>
<rect x="710" y="569.4" width="19.6" height="10.4" fill="#d4302d"/>
<rect x="710" y="587" width="19.6" height="10.3" fill="#a72427"/>
<g font-family="Liberation Sans, sans-serif" fill="#444" font-size="8.2">
<g transform="translate(735.7 0) scale(0.86 1) translate(-735.7 0)">
<text x="735.7" y="460.5">Limite de "pays"</text>
<text x="735.7" y="478.5">Limite départementale</text>
<text x="735.7" y="523.8">Moins de 15%</text>
<text x="735.7" y="541.7">De 15% à 35%</text>
<text x="735.7" y="559.7">De 35% à 50%</text>
<text x="735.7" y="577.8">De 50% à 70%</text>
<text x="735.7" y="595.5">Plus de 70%</text>
</g>
<g transform="translate(709 0) scale(0.875 1) translate(-709 0)">
<text x="709" y="496.5">Part des résidences secondaires et</text>
<text x="709" y="507.5">logements occasionnels :</text>
<text x="709" y="613.5">Nombre de résidences secondaires</text>
<text x="709" y="624.5">et logements occassionnels :</text>
</g>
<g transform="translate(793.5 0) scale(0.98 1) translate(-793.5 0)">
<text x="793.5" y="647.5">32 011</text>
<text x="793.5" y="670.5">12 330</text>
<text x="793.5" y="693.5">1 655</text>
</g>
</g>
<g stroke="#666" stroke-width="0.7"><line x1="735.3" y1="644.7" x2="790" y2="644.7"/><line x1="735.3" y1="668" x2="790" y2="668"/><line x1="735.3" y1="690.6" x2="790" y2="690.6"/></g>
<circle cx="735.5" cy="673.3" r="28.5" fill="none" stroke="#4d6b1f" stroke-width="1.4"/>
<circle cx="735.7" cy="685.3" r="17" fill="#8fbf4f" stroke="#4d6b1f" stroke-width="0.8"/>
<circle cx="735.8" cy="696.3" r="5.6" fill="#8fbf4f" stroke="#4d6b1f" stroke-width="0.8"/>

<rect x="282.5" y="178.5" width="562" height="552" fill="none" stroke="#9b9ba8" stroke-width="1"/>
</svg>
<!--/MAP-->

<div class="a" style="left:280px;top:740.9px;font-size:9.5px;font-style:italic;line-height:13.05px;color:#1a1a1a;transform:scaleX(0.922);transform-origin:left">Une forte représentation des résidences secondaires et des logements occasionnels dans le Haut-Pays (56% des logements contre 26% sur le<br>Littoral et 14% dans le Moyen-Pays). Néanmoins, en effectifs, la majorité des résidences secondaires se situent sur le Littoral (73% contre 14%<br>dans le Moyen-Pays et 13% dans le Haut-Pays).</div>

<!-- chart panel -->
<div class="a" style="left:851px;top:149px;width:265px;height:27px;background:#b47747"></div>
<div class="a w" style="left:853px;top:150.2px;font-size:9.6px;font-weight:bold;line-height:12.8px;letter-spacing:0.97px">RÉPARTITION DES TYPES DE LOGEMENTS EN<br>2021</div>
<div class="a" style="left:851px;top:176px;width:264px;height:606px;background:#f4f1ee"></div>
<!--CHART-->
<div class="a" style="left:932px;top:184px;width:1.5px;height:528px;background:#c9c6c3"></div>
<div class="a" style="left:852px;top:522px;width:259px;height:43.5px;border:1px solid #a0504e"></div>
<div class="a" style="left:932.9px;top:193.2px;width:146.5px;height:30.3px;background:#9c6334"></div>
<div class="a" style="left:1079.4px;top:193.2px;width:17.3px;height:30.3px;background:#359c97"></div>
<div class="a" style="left:1096.7px;top:193.2px;width:14.0px;height:30.3px;background:#a6a6a6"></div>
<div class="a cl" style="left:986.2px;top:202.8px">82%</div>
<div class="a cl" style="left:1068.1px;top:202.8px">10%</div>
<div class="a cl" style="left:1083.7px;top:202.8px">8%</div>
<div class="a lb" style="top:203.5px;color:#666">France</div>
<div class="a" style="left:932.9px;top:240.79999999999998px;width:133.2px;height:30.3px;background:#9c6334"></div>
<div class="a" style="left:1066.1px;top:240.79999999999998px;width:31.9px;height:30.3px;background:#359c97"></div>
<div class="a" style="left:1098.0px;top:240.79999999999998px;width:12.7px;height:30.3px;background:#a6a6a6"></div>
<div class="a cl" style="left:979.5px;top:250.3px">75%</div>
<div class="a cl" style="left:1062.0px;top:250.3px">18%</div>
<div class="a cl" style="left:1084.3px;top:250.3px">7%</div>
<div class="a lb" style="top:251.1px;color:#666">Région SUD</div>
<div class="a" style="left:932.9px;top:289.2px;width:86.6px;height:30.3px;background:#9c6334"></div>
<div class="a" style="left:1019.5px;top:289.2px;width:81.5px;height:30.3px;background:#359c97"></div>
<div class="a" style="left:1101.0px;top:289.2px;width:9.7px;height:30.3px;background:#a6a6a6"></div>
<div class="a cl" style="left:956.2px;top:298.7px">49%</div>
<div class="a cl" style="left:1040.2px;top:298.7px">46%</div>
<div class="a cl" style="left:1085.8px;top:298.7px">6%</div>
<div class="a lb" style="top:299.5px;color:#666">Hautes-Alpes</div>
<div class="a" style="left:932.9px;top:337.0px;width:108.8px;height:30.3px;background:#9c6334"></div>
<div class="a" style="left:1041.7px;top:337.0px;width:54.7px;height:30.3px;background:#359c97"></div>
<div class="a" style="left:1096.4px;top:337.0px;width:14.3px;height:30.3px;background:#a6a6a6"></div>
<div class="a cl" style="left:967.3px;top:346.5px">61%</div>
<div class="a cl" style="left:1049.1px;top:346.5px">31%</div>
<div class="a cl" style="left:1083.6px;top:346.5px">8%</div>
<div class="a lb" style="top:342.4px;color:#666">Alpes-de Haute-<br>Provence</div>
<div class="a" style="left:932.9px;top:385.09999999999997px;width:123.6px;height:30.3px;background:#9c6334"></div>
<div class="a" style="left:1056.5px;top:385.09999999999997px;width:44.2px;height:30.3px;background:#359c97"></div>
<div class="a" style="left:1100.7px;top:385.09999999999997px;width:10.0px;height:30.3px;background:#a6a6a6"></div>
<div class="a cl" style="left:974.7px;top:394.6px">69%</div>
<div class="a cl" style="left:1058.6px;top:394.6px">25%</div>
<div class="a cl" style="left:1085.7px;top:394.6px">6%</div>
<div class="a lb" style="top:395.4px;color:#666">Var</div>
<div class="a" style="left:932.9px;top:433.3px;width:145.1px;height:30.3px;background:#9c6334"></div>
<div class="a" style="left:1078.0px;top:433.3px;width:15.1px;height:30.3px;background:#359c97"></div>
<div class="a" style="left:1093.1px;top:433.3px;width:17.6px;height:30.3px;background:#a6a6a6"></div>
<div class="a cl" style="left:985.5px;top:442.8px">81%</div>
<div class="a cl" style="left:1065.5px;top:442.8px">9%</div>
<div class="a cl" style="left:1081.9px;top:442.8px">10%</div>
<div class="a lb" style="top:443.6px;color:#666">Vaucluse</div>
<div class="a" style="left:932.9px;top:481.4px;width:156.0px;height:30.3px;background:#9c6334"></div>
<div class="a" style="left:1088.9px;top:481.4px;width:8.7px;height:30.3px;background:#359c97"></div>
<div class="a" style="left:1097.6px;top:481.4px;width:13.1px;height:30.3px;background:#a6a6a6"></div>
<div class="a cl" style="left:990.9px;top:490.9px">88%</div>
<div class="a cl" style="left:1073.2px;top:486.4px">5%</div>
<div class="a cl" style="left:1084.2px;top:495.4px">7%</div>
<div class="a lb" style="top:486.8px;color:#666">Bouches-du-<br>Rhône</div>
<div class="a" style="left:932.9px;top:529.0px;width:118.8px;height:30.3px;background:#9c6334"></div>
<div class="a" style="left:1051.7px;top:529.0px;width:44.7px;height:30.3px;background:#359c97"></div>
<div class="a" style="left:1096.4px;top:529.0px;width:14.3px;height:30.3px;background:#a6a6a6"></div>
<div class="a cl" style="left:972.3px;top:538.5px">67%</div>
<div class="a cl" style="left:1054.1px;top:538.5px">25%</div>
<div class="a cl" style="left:1083.6px;top:538.5px">8%</div>
<div class="a lb" style="top:539.3px;color:#1d1d80">Alpes-Maritimes</div>
<div class="a" style="left:932.9px;top:577.2px;width:115.4px;height:30.3px;background:#9c6334"></div>
<div class="a" style="left:1048.3px;top:577.2px;width:47.0px;height:30.3px;background:#359c97"></div>
<div class="a" style="left:1095.3px;top:577.2px;width:15.4px;height:30.3px;background:#a6a6a6"></div>
<div class="a cl" style="left:970.6px;top:586.8px">65%</div>
<div class="a cl" style="left:1051.8px;top:586.8px">26%</div>
<div class="a cl" style="left:1083.0px;top:586.8px">9%</div>
<div class="a lb" style="top:587.5px;color:#3b5b9c">Littoral du 06</div>
<div class="a" style="left:932.9px;top:625.0px;width:140.3px;height:30.3px;background:#9c6334"></div>
<div class="a" style="left:1073.2px;top:625.0px;width:25.5px;height:30.3px;background:#359c97"></div>
<div class="a" style="left:1098.7px;top:625.0px;width:12.0px;height:30.3px;background:#a6a6a6"></div>
<div class="a cl" style="left:983.0px;top:634.5px">79%</div>
<div class="a cl" style="left:1066.0px;top:634.5px">14%</div>
<div class="a cl" style="left:1084.7px;top:634.5px">7%</div>
<div class="a lb" style="top:630.4px;color:#3b5b9c">Moyen-Pays<br>du 06</div>
<div class="a" style="left:932.9px;top:673.2px;width:66.8px;height:30.3px;background:#9c6334"></div>
<div class="a" style="left:999.7px;top:673.2px;width:99.7px;height:30.3px;background:#359c97"></div>
<div class="a" style="left:1099.4px;top:673.2px;width:11.3px;height:30.3px;background:#a6a6a6"></div>
<div class="a cl" style="left:946.3px;top:682.8px">38%</div>
<div class="a cl" style="left:1029.6px;top:682.8px">56%</div>
<div class="a cl" style="left:1085.1px;top:682.8px">7%</div>
<div class="a lb" style="top:678.6px;color:#3b5b9c">Haut-Pays<br>du 06</div>
<div class="a" style="left:890px;top:719px;width:5px;height:5px;background:#9c6334"></div>
<div class="a" style="left:890px;top:731px;width:5px;height:5px;background:#359c97"></div>
<div class="a" style="left:890px;top:743px;width:5px;height:5px;background:#a6a6a6"></div>
<div class="a" style="left:897px;top:716px;font-size:9px;line-height:11.8px;color:#555">Résidences principales<br>Résidences secondaires et logements occasionnels<br>Logements vacants</div>
<!--/CHART-->
</body></html>
